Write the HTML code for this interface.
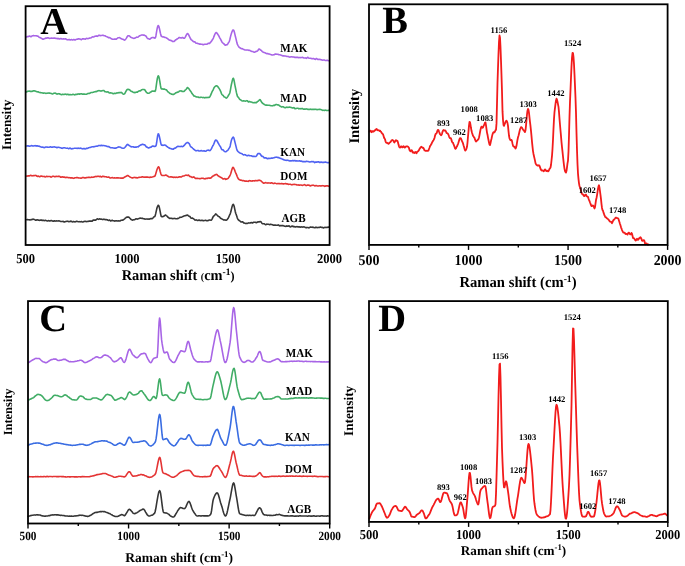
<!DOCTYPE html><html><head><meta charset="utf-8"><style>html,body{margin:0;padding:0;background:#fff;width:685px;height:566px;overflow:hidden}svg{display:block;will-change:transform;text-rendering:geometricPrecision}</style></head><body>
<svg width="685" height="566" viewBox="0 0 685 566" font-family='"Liberation Serif", serif' font-weight="bold" fill="#000">
<rect width="685" height="566" fill="#fff"/>
<path d="M26.40,37.02 L26.90,36.80 L27.40,36.52 L27.90,36.64 L28.40,36.49 L28.90,36.24 L29.40,36.12 L29.90,36.03 L30.40,36.58 L30.90,36.73 L31.40,36.59 L31.90,36.05 L32.40,35.86 L32.90,35.68 L33.40,35.57 L33.90,35.66 L34.40,35.73 L34.90,35.81 L35.40,35.73 L35.90,35.69 L36.40,35.77 L36.90,36.01 L37.40,36.10 L37.90,36.12 L38.40,36.45 L38.90,37.10 L39.40,37.46 L39.90,37.56 L40.40,37.72 L40.90,38.01 L41.40,38.25 L41.90,38.56 L42.40,39.04 L42.90,39.25 L43.40,39.26 L43.90,38.84 L44.40,38.69 L44.90,38.49 L45.40,38.36 L45.90,38.05 L46.40,38.15 L46.90,38.17 L47.40,37.89 L47.90,37.78 L48.40,37.87 L48.90,38.18 L49.40,38.33 L49.90,38.35 L50.40,38.31 L50.90,38.26 L51.40,38.09 L51.90,38.02 L52.40,38.20 L52.90,38.32 L53.40,38.15 L53.90,38.13 L54.40,37.95 L54.90,38.09 L55.40,38.34 L55.90,38.52 L56.40,38.44 L56.90,38.42 L57.40,38.74 L57.90,38.61 L58.40,38.54 L58.90,38.59 L59.40,39.04 L59.90,38.91 L60.40,38.63 L60.90,38.60 L61.40,38.82 L61.90,39.03 L62.40,38.94 L62.90,38.94 L63.40,38.69 L63.90,38.94 L64.40,39.00 L64.90,39.03 L65.40,38.69 L65.90,38.91 L66.40,39.29 L66.90,39.67 L67.40,39.73 L67.90,39.83 L68.40,39.76 L68.90,39.59 L69.40,39.53 L69.90,39.83 L70.40,39.85 L70.90,39.76 L71.40,39.59 L71.90,39.80 L72.40,39.97 L72.90,39.87 L73.40,39.56 L73.90,39.47 L74.40,39.80 L74.90,40.06 L75.40,39.94 L75.90,39.59 L76.40,39.36 L76.90,39.19 L77.40,39.17 L77.90,38.98 L78.40,38.90 L78.90,38.81 L79.40,38.97 L79.90,39.02 L80.40,39.35 L80.90,39.58 L81.40,39.72 L81.90,39.19 L82.40,38.86 L82.90,38.69 L83.40,39.01 L83.90,38.83 L84.40,38.94 L84.90,39.12 L85.40,39.18 L85.90,38.74 L86.40,38.41 L86.90,38.44 L87.40,38.52 L87.90,38.73 L88.40,38.59 L88.90,38.36 L89.40,38.01 L89.90,38.08 L90.40,38.01 L90.90,37.98 L91.40,37.52 L91.90,37.17 L92.40,36.80 L92.90,36.94 L93.40,36.99 L93.90,36.88 L94.40,36.48 L94.90,36.33 L95.40,36.22 L95.90,36.02 L96.40,35.91 L96.90,36.26 L97.40,36.33 L97.90,36.00 L98.40,35.47 L98.90,35.23 L99.40,35.28 L99.90,35.54 L100.40,35.66 L100.90,35.57 L101.40,35.47 L101.90,35.48 L102.40,35.29 L102.90,35.23 L103.40,35.37 L103.90,35.60 L104.40,35.71 L104.90,35.77 L105.40,35.98 L105.90,36.33 L106.40,36.60 L106.90,36.73 L107.40,36.89 L107.90,37.21 L108.40,37.61 L108.90,37.51 L109.40,37.59 L109.90,37.67 L110.40,38.11 L110.90,38.35 L111.40,38.77 L111.90,39.07 L112.40,39.15 L112.90,39.30 L113.40,39.29 L113.90,39.23 L114.40,39.12 L114.90,39.05 L115.40,39.12 L115.90,39.07 L116.40,39.14 L116.90,38.71 L117.40,38.24 L117.90,37.80 L118.40,37.77 L118.90,37.68 L119.40,37.65 L119.90,37.72 L120.40,38.19 L120.90,38.43 L121.40,38.81 L121.90,38.97 L122.40,39.22 L122.90,39.32 L123.40,39.52 L123.90,39.80 L124.40,40.10 L124.90,40.03 L125.40,39.51 L125.90,38.87 L126.40,38.13 L126.90,37.25 L127.40,36.39 L127.90,35.76 L128.40,35.71 L128.90,35.73 L129.40,36.08 L129.90,36.34 L130.40,36.97 L130.90,37.25 L131.40,37.44 L131.90,37.64 L132.40,37.90 L132.90,38.16 L133.40,38.27 L133.90,38.37 L134.40,38.31 L134.90,38.09 L135.40,37.90 L135.90,37.51 L136.40,37.32 L136.90,37.10 L137.40,37.22 L137.90,37.20 L138.40,36.81 L138.90,36.26 L139.40,35.87 L139.90,35.69 L140.40,35.48 L140.90,35.34 L141.40,35.13 L141.90,34.91 L142.40,34.94 L142.90,35.11 L143.40,34.97 L143.90,34.99 L144.40,35.21 L144.90,35.48 L145.40,35.66 L145.90,36.10 L146.40,36.76 L146.90,37.62 L147.40,38.30 L147.90,38.66 L148.40,38.66 L148.90,38.83 L149.40,39.24 L149.90,39.21 L150.40,38.82 L150.90,38.25 L151.40,37.90 L151.90,37.81 L152.40,37.56 L152.90,37.48 L153.40,37.44 L153.90,37.84 L154.40,37.91 L154.90,38.19 L155.40,37.70 L155.90,35.94 L156.40,32.98 L156.90,29.96 L157.40,27.39 L157.90,25.84 L158.40,25.55 L158.90,26.55 L159.40,28.45 L159.90,30.76 L160.40,33.14 L160.90,35.19 L161.40,36.30 L161.90,36.52 L162.40,36.81 L162.90,36.99 L163.40,36.92 L163.90,36.92 L164.40,37.26 L164.90,37.46 L165.40,37.47 L165.90,37.49 L166.40,37.98 L166.90,38.18 L167.40,38.49 L167.90,38.93 L168.40,39.41 L168.90,39.74 L169.40,40.02 L169.90,40.29 L170.40,40.37 L170.90,40.41 L171.40,40.57 L171.90,41.00 L172.40,41.32 L172.90,41.58 L173.40,41.47 L173.90,41.53 L174.40,41.19 L174.90,40.65 L175.40,40.07 L175.90,39.82 L176.40,39.61 L176.90,39.09 L177.40,38.73 L177.90,38.49 L178.40,38.08 L178.90,37.62 L179.40,37.62 L179.90,37.67 L180.40,37.74 L180.90,37.89 L181.40,38.03 L181.90,37.81 L182.40,37.53 L182.90,37.61 L183.40,37.99 L183.90,38.26 L184.40,38.27 L184.90,37.69 L185.40,36.90 L185.90,35.90 L186.40,34.98 L186.90,34.09 L187.40,33.58 L187.90,33.71 L188.40,34.40 L188.90,35.33 L189.40,36.43 L189.90,37.44 L190.40,38.53 L190.90,39.35 L191.40,39.85 L191.90,40.15 L192.40,40.70 L192.90,41.17 L193.40,41.57 L193.90,41.83 L194.40,41.78 L194.90,41.94 L195.40,42.38 L195.90,43.10 L196.40,43.22 L196.90,43.24 L197.40,43.37 L197.90,43.54 L198.40,43.71 L198.90,43.85 L199.40,44.14 L199.90,44.14 L200.40,44.06 L200.90,44.22 L201.40,44.23 L201.90,44.28 L202.40,44.34 L202.90,44.74 L203.40,44.70 L203.90,44.41 L204.40,44.18 L204.90,44.21 L205.40,44.26 L205.90,44.17 L206.40,44.28 L206.90,44.14 L207.40,43.95 L207.90,43.43 L208.40,43.19 L208.90,43.34 L209.40,43.53 L209.90,43.17 L210.40,42.36 L210.90,41.87 L211.40,41.32 L211.90,40.53 L212.40,39.68 L212.90,38.95 L213.40,38.07 L213.90,36.61 L214.40,35.38 L214.90,34.21 L215.40,33.31 L215.90,32.58 L216.40,32.57 L216.90,33.07 L217.40,33.70 L217.90,34.47 L218.40,35.18 L218.90,36.10 L219.40,37.07 L219.90,38.09 L220.40,38.83 L220.90,39.82 L221.40,40.98 L221.90,41.98 L222.40,42.57 L222.90,43.01 L223.40,43.46 L223.90,43.79 L224.40,44.42 L224.90,44.93 L225.40,45.19 L225.90,44.97 L226.40,44.85 L226.90,44.81 L227.40,44.53 L227.90,43.69 L228.40,42.80 L228.90,42.11 L229.40,41.06 L229.90,39.19 L230.40,37.13 L230.90,35.11 L231.40,33.43 L231.90,31.99 L232.40,30.87 L232.90,30.03 L233.40,30.09 L233.90,30.64 L234.40,32.30 L234.90,34.36 L235.40,36.45 L235.90,38.37 L236.40,40.58 L236.90,42.82 L237.40,44.41 L237.90,45.32 L238.40,46.11 L238.90,46.99 L239.40,47.55 L239.90,47.83 L240.40,48.07 L240.90,48.50 L241.40,48.67 L241.90,48.64 L242.40,48.75 L242.90,49.02 L243.40,49.25 L243.90,49.44 L244.40,49.81 L244.90,49.91 L245.40,50.05 L245.90,49.94 L246.40,50.10 L246.90,49.96 L247.40,49.98 L247.90,50.03 L248.40,50.28 L248.90,50.34 L249.40,50.24 L249.90,50.44 L250.40,50.72 L250.90,50.95 L251.40,51.25 L251.90,51.44 L252.40,51.53 L252.90,51.53 L253.40,51.87 L253.90,52.14 L254.40,52.31 L254.90,52.09 L255.40,51.77 L255.90,51.55 L256.40,51.36 L256.90,51.22 L257.40,50.99 L257.90,50.44 L258.40,49.67 L258.90,49.05 L259.40,49.01 L259.90,49.46 L260.40,49.98 L260.90,50.37 L261.40,50.55 L261.90,51.10 L262.40,51.55 L262.90,51.97 L263.40,52.25 L263.90,52.37 L264.40,52.59 L264.90,52.76 L265.40,52.98 L265.90,53.21 L266.40,53.56 L266.90,53.69 L267.40,53.47 L267.90,53.55 L268.40,53.94 L268.90,54.07 L269.40,54.04 L269.90,54.17 L270.40,54.40 L270.90,54.60 L271.40,54.75 L271.90,54.97 L272.40,55.07 L272.90,55.03 L273.40,54.83 L273.90,54.74 L274.40,54.64 L274.90,54.23 L275.40,54.01 L275.90,53.94 L276.40,54.21 L276.90,54.19 L277.40,54.25 L277.90,54.22 L278.40,54.55 L278.90,54.74 L279.40,54.79 L279.90,54.80 L280.40,54.93 L280.90,55.11 L281.40,55.22 L281.90,55.42 L282.40,55.77 L282.90,55.91 L283.40,55.92 L283.90,55.80 L284.40,56.04 L284.90,56.04 L285.40,56.01 L285.90,56.05 L286.40,56.37 L286.90,56.56 L287.40,56.55 L287.90,56.42 L288.40,56.53 L288.90,56.86 L289.40,57.09 L289.90,57.05 L290.40,56.96 L290.90,56.86 L291.40,56.78 L291.90,56.75 L292.40,56.93 L292.90,57.02 L293.40,56.92 L293.90,57.01 L294.40,57.34 L294.90,57.51 L295.40,57.38 L295.90,57.27 L296.40,57.43 L296.90,57.26 L297.40,57.37 L297.90,57.38 L298.40,57.66 L298.90,57.58 L299.40,57.58 L299.90,57.43 L300.40,57.58 L300.90,57.60 L301.40,57.54 L301.90,57.43 L302.40,57.36 L302.90,57.55 L303.40,57.84 L303.90,58.05 L304.40,58.05 L304.90,57.95 L305.40,57.90 L305.90,58.05 L306.40,58.39 L306.90,58.14 L307.40,57.45 L307.90,57.21 L308.40,57.73 L308.90,58.20 L309.40,58.28 L309.90,58.28 L310.40,58.31 L310.90,58.35 L311.40,58.46 L311.90,58.70 L312.40,58.76 L312.90,58.64 L313.40,58.65 L313.90,58.66 L314.40,58.90 L314.90,59.28 L315.40,59.35 L315.90,58.86 L316.40,58.50 L316.90,58.77 L317.40,59.25 L317.90,59.53 L318.40,59.45 L318.90,59.22 L319.40,59.31 L319.90,59.43 L320.40,59.63 L320.90,59.60 L321.40,59.84 L321.90,59.90 L322.40,60.09 L322.90,60.17 L323.40,60.04 L323.90,59.99 L324.40,60.01 L324.90,60.23 L325.40,60.43 L325.90,60.51 L326.40,60.41 L326.90,60.23 L327.40,60.30 L327.90,60.58 L328.40,60.69 L328.90,60.74" fill="none" stroke="#a865e6" stroke-width="1.6" stroke-linejoin="round" stroke-linecap="round"/>
<path d="M26.40,92.02 L26.90,91.81 L27.40,91.35 L27.90,91.18 L28.40,91.24 L28.90,91.11 L29.40,91.04 L29.90,91.21 L30.40,91.43 L30.90,91.25 L31.40,91.32 L31.90,91.49 L32.40,91.28 L32.90,90.93 L33.40,90.85 L33.90,91.00 L34.40,90.81 L34.90,90.92 L35.40,91.09 L35.90,91.44 L36.40,91.48 L36.90,91.75 L37.40,91.83 L37.90,91.80 L38.40,91.84 L38.90,92.20 L39.40,92.41 L39.90,92.56 L40.40,92.61 L40.90,92.66 L41.40,92.77 L41.90,92.83 L42.40,93.03 L42.90,92.96 L43.40,93.14 L43.90,92.98 L44.40,92.93 L44.90,93.05 L45.40,93.33 L45.90,93.42 L46.40,93.26 L46.90,93.29 L47.40,93.17 L47.90,93.03 L48.40,92.98 L48.90,93.10 L49.40,93.14 L49.90,93.17 L50.40,93.29 L50.90,93.36 L51.40,93.58 L51.90,93.81 L52.40,93.97 L52.90,93.80 L53.40,93.59 L53.90,93.27 L54.40,93.22 L54.90,93.10 L55.40,93.16 L55.90,93.38 L56.40,93.90 L56.90,94.15 L57.40,93.96 L57.90,93.78 L58.40,93.65 L58.90,93.84 L59.40,93.86 L59.90,94.05 L60.40,94.34 L60.90,94.56 L61.40,94.71 L61.90,94.51 L62.40,94.32 L62.90,94.22 L63.40,94.53 L63.90,94.57 L64.40,94.39 L64.90,94.09 L65.40,94.13 L65.90,94.33 L66.40,94.58 L66.90,94.54 L67.40,94.28 L67.90,94.33 L68.40,94.58 L68.90,94.84 L69.40,94.82 L69.90,94.56 L70.40,94.64 L70.90,94.72 L71.40,94.78 L71.90,94.66 L72.40,94.44 L72.90,94.33 L73.40,94.31 L73.90,94.62 L74.40,94.80 L74.90,94.91 L75.40,94.59 L75.90,94.26 L76.40,94.24 L76.90,94.45 L77.40,94.28 L77.90,93.93 L78.40,93.90 L78.90,94.12 L79.40,94.26 L79.90,93.92 L80.40,93.98 L80.90,93.75 L81.40,93.71 L81.90,93.85 L82.40,94.30 L82.90,94.32 L83.40,93.99 L83.90,94.17 L84.40,94.14 L84.90,94.25 L85.40,94.19 L85.90,94.22 L86.40,94.21 L86.90,93.99 L87.40,93.79 L87.90,93.53 L88.40,93.48 L88.90,93.40 L89.40,93.36 L89.90,93.23 L90.40,92.92 L90.90,92.60 L91.40,92.45 L91.90,92.49 L92.40,92.43 L92.90,92.36 L93.40,92.15 L93.90,91.93 L94.40,91.84 L94.90,91.69 L95.40,91.61 L95.90,91.64 L96.40,91.60 L96.90,91.40 L97.40,90.97 L97.90,90.89 L98.40,90.67 L98.90,90.69 L99.40,90.66 L99.90,90.77 L100.40,90.97 L100.90,91.08 L101.40,91.05 L101.90,90.84 L102.40,90.74 L102.90,90.58 L103.40,90.43 L103.90,90.56 L104.40,91.08 L104.90,91.60 L105.40,91.67 L105.90,91.83 L106.40,92.00 L106.90,92.08 L107.40,91.88 L107.90,91.92 L108.40,92.11 L108.90,92.66 L109.40,92.99 L109.90,92.95 L110.40,92.74 L110.90,92.88 L111.40,92.94 L111.90,93.07 L112.40,93.35 L112.90,93.69 L113.40,93.78 L113.90,93.58 L114.40,93.25 L114.90,93.26 L115.40,93.57 L115.90,93.46 L116.40,93.08 L116.90,92.88 L117.40,92.98 L117.90,92.88 L118.40,92.70 L118.90,92.58 L119.40,92.60 L119.90,92.73 L120.40,92.63 L120.90,92.39 L121.40,92.48 L121.90,92.83 L122.40,93.41 L122.90,93.86 L123.40,94.23 L123.90,94.18 L124.40,93.84 L124.90,93.33 L125.40,92.45 L125.90,91.48 L126.40,90.53 L126.90,89.84 L127.40,89.39 L127.90,89.20 L128.40,89.37 L128.90,89.49 L129.40,89.84 L129.90,90.08 L130.40,90.69 L130.90,91.11 L131.40,91.45 L131.90,91.42 L132.40,91.71 L132.90,92.10 L133.40,92.38 L133.90,92.45 L134.40,92.42 L134.90,92.66 L135.40,92.58 L135.90,92.27 L136.40,92.14 L136.90,92.23 L137.40,92.14 L137.90,91.68 L138.40,91.30 L138.90,91.11 L139.40,90.84 L139.90,90.90 L140.40,90.86 L140.90,90.55 L141.40,89.94 L141.90,89.64 L142.40,89.48 L142.90,89.46 L143.40,89.49 L143.90,89.59 L144.40,89.59 L144.90,89.98 L145.40,90.77 L145.90,91.64 L146.40,92.22 L146.90,92.69 L147.40,92.97 L147.90,93.30 L148.40,93.26 L148.90,93.30 L149.40,92.96 L149.90,92.58 L150.40,92.15 L150.90,92.03 L151.40,91.64 L151.90,91.21 L152.40,91.01 L152.90,91.18 L153.40,91.15 L153.90,91.10 L154.40,91.08 L154.90,91.34 L155.40,90.82 L155.90,88.43 L156.40,84.71 L156.90,81.08 L157.40,78.26 L157.90,76.36 L158.40,75.81 L158.90,76.83 L159.40,79.01 L159.90,82.00 L160.40,85.20 L160.90,87.88 L161.40,88.90 L161.90,88.94 L162.40,88.89 L162.90,89.15 L163.40,89.14 L163.90,89.11 L164.40,88.98 L164.90,89.25 L165.40,89.49 L165.90,89.70 L166.40,89.86 L166.90,90.29 L167.40,91.16 L167.90,91.75 L168.40,92.12 L168.90,92.37 L169.40,93.04 L169.90,93.39 L170.40,93.59 L170.90,93.79 L171.40,94.11 L171.90,94.18 L172.40,94.35 L172.90,94.39 L173.40,94.51 L173.90,94.15 L174.40,93.98 L174.90,93.51 L175.40,93.12 L175.90,92.78 L176.40,92.63 L176.90,92.53 L177.40,92.14 L177.90,92.15 L178.40,91.95 L178.90,91.60 L179.40,91.12 L179.90,91.03 L180.40,90.92 L180.90,90.78 L181.40,90.97 L181.90,91.34 L182.40,91.42 L182.90,91.29 L183.40,91.44 L183.90,91.44 L184.40,91.04 L184.90,90.43 L185.40,89.88 L185.90,89.59 L186.40,88.97 L186.90,88.27 L187.40,87.55 L187.90,87.70 L188.40,88.21 L188.90,88.84 L189.40,89.47 L189.90,90.24 L190.40,90.90 L190.90,91.57 L191.40,92.41 L191.90,93.37 L192.40,93.89 L192.90,94.59 L193.40,95.20 L193.90,95.99 L194.40,96.07 L194.90,96.32 L195.40,96.41 L195.90,96.66 L196.40,96.86 L196.90,97.08 L197.40,97.06 L197.90,96.99 L198.40,97.14 L198.90,97.46 L199.40,97.51 L199.90,97.41 L200.40,97.37 L200.90,97.31 L201.40,97.18 L201.90,97.38 L202.40,97.58 L202.90,97.66 L203.40,97.39 L203.90,97.55 L204.40,97.82 L204.90,97.88 L205.40,97.68 L205.90,97.39 L206.40,97.54 L206.90,97.66 L207.40,97.58 L207.90,97.40 L208.40,97.37 L208.90,97.43 L209.40,97.26 L209.90,96.70 L210.40,95.69 L210.90,94.59 L211.40,93.43 L211.90,92.08 L212.40,91.07 L212.90,90.27 L213.40,89.31 L213.90,88.01 L214.40,87.22 L214.90,86.69 L215.40,86.26 L215.90,86.00 L216.40,85.78 L216.90,85.86 L217.40,86.15 L217.90,86.84 L218.40,87.56 L218.90,88.02 L219.40,88.93 L219.90,89.78 L220.40,90.96 L220.90,91.93 L221.40,93.38 L221.90,94.49 L222.40,94.92 L222.90,95.17 L223.40,95.84 L223.90,96.66 L224.40,97.05 L224.90,97.04 L225.40,97.51 L225.90,97.98 L226.40,98.09 L226.90,97.60 L227.40,97.08 L227.90,96.39 L228.40,95.52 L228.90,94.67 L229.40,93.89 L229.90,92.47 L230.40,90.04 L230.90,87.14 L231.40,84.51 L231.90,82.42 L232.40,80.15 L232.90,78.57 L233.40,78.24 L233.90,79.69 L234.40,82.23 L234.90,85.09 L235.40,87.52 L235.90,89.89 L236.40,92.42 L236.90,94.59 L237.40,96.21 L237.90,96.91 L238.40,97.43 L238.90,98.06 L239.40,98.91 L239.90,99.48 L240.40,99.86 L240.90,100.02 L241.40,100.41 L241.90,100.84 L242.40,101.00 L242.90,100.96 L243.40,100.89 L243.90,100.88 L244.40,100.97 L244.90,101.08 L245.40,101.16 L245.90,101.03 L246.40,100.86 L246.90,100.67 L247.40,100.83 L247.90,101.33 L248.40,101.84 L248.90,101.87 L249.40,101.53 L249.90,101.56 L250.40,101.92 L250.90,102.02 L251.40,102.06 L251.90,102.20 L252.40,102.56 L252.90,102.60 L253.40,102.73 L253.90,102.71 L254.40,102.60 L254.90,102.48 L255.40,102.44 L255.90,102.66 L256.40,102.63 L256.90,102.20 L257.40,101.64 L257.90,101.34 L258.40,101.05 L258.90,100.55 L259.40,99.90 L259.90,99.61 L260.40,99.99 L260.90,101.00 L261.40,101.77 L261.90,102.56 L262.40,103.18 L262.90,103.60 L263.40,103.81 L263.90,104.18 L264.40,104.54 L264.90,104.79 L265.40,104.97 L265.90,105.15 L266.40,105.16 L266.90,105.10 L267.40,105.26 L267.90,105.29 L268.40,105.24 L268.90,105.23 L269.40,105.31 L269.90,105.44 L270.40,105.57 L270.90,105.74 L271.40,105.69 L271.90,105.71 L272.40,105.84 L272.90,105.65 L273.40,105.29 L273.90,105.31 L274.40,105.53 L274.90,105.25 L275.40,104.66 L275.90,104.48 L276.40,104.53 L276.90,104.62 L277.40,104.68 L277.90,104.93 L278.40,104.91 L278.90,105.13 L279.40,105.64 L279.90,106.03 L280.40,106.30 L280.90,106.54 L281.40,106.95 L281.90,106.97 L282.40,106.82 L282.90,106.67 L283.40,106.84 L283.90,107.22 L284.40,107.54 L284.90,107.62 L285.40,107.64 L285.90,107.48 L286.40,107.20 L286.90,107.12 L287.40,107.32 L287.90,107.52 L288.40,107.33 L288.90,107.18 L289.40,107.07 L289.90,107.27 L290.40,107.32 L290.90,107.48 L291.40,107.59 L291.90,107.81 L292.40,108.05 L292.90,107.99 L293.40,107.68 L293.90,107.65 L294.40,108.15 L294.90,108.67 L295.40,108.66 L295.90,108.57 L296.40,108.49 L296.90,108.35 L297.40,108.22 L297.90,108.35 L298.40,108.53 L298.90,108.83 L299.40,108.73 L299.90,108.65 L300.40,108.63 L300.90,108.84 L301.40,108.72 L301.90,108.44 L302.40,108.44 L302.90,108.81 L303.40,109.14 L303.90,109.27 L304.40,109.06 L304.90,109.10 L305.40,109.12 L305.90,109.07 L306.40,108.90 L306.90,108.95 L307.40,109.25 L307.90,109.36 L308.40,109.37 L308.90,109.52 L309.40,109.51 L309.90,109.22 L310.40,109.10 L310.90,109.36 L311.40,109.49 L311.90,109.41 L312.40,109.35 L312.90,109.42 L313.40,109.40 L313.90,109.52 L314.40,109.38 L314.90,109.27 L315.40,109.22 L315.90,109.36 L316.40,109.55 L316.90,109.60 L317.40,109.58 L317.90,109.53 L318.40,109.52 L318.90,109.40 L319.40,109.22 L319.90,109.24 L320.40,109.41 L320.90,109.60 L321.40,109.86 L321.90,110.04 L322.40,110.26 L322.90,110.39 L323.40,110.31 L323.90,110.27 L324.40,110.37 L324.90,110.35 L325.40,110.16 L325.90,110.21 L326.40,110.37 L326.90,110.45 L327.40,110.44 L327.90,110.50 L328.40,110.39 L328.90,110.34" fill="none" stroke="#41ad66" stroke-width="1.6" stroke-linejoin="round" stroke-linecap="round"/>
<path d="M26.70,145.93 L27.20,145.99 L27.70,145.78 L28.20,145.77 L28.70,145.92 L29.20,146.23 L29.70,146.16 L30.20,146.05 L30.70,145.90 L31.20,145.75 L31.70,145.64 L32.20,145.74 L32.70,145.97 L33.20,145.95 L33.70,146.01 L34.20,145.78 L34.70,145.69 L35.20,145.60 L35.70,145.97 L36.20,146.08 L36.70,145.82 L37.20,145.74 L37.70,146.00 L38.20,146.20 L38.70,146.09 L39.20,146.12 L39.70,146.38 L40.20,146.72 L40.70,146.75 L41.20,147.02 L41.70,147.16 L42.20,147.26 L42.70,147.10 L43.20,147.19 L43.70,147.50 L44.20,147.64 L44.70,147.53 L45.20,147.14 L45.70,146.95 L46.20,146.95 L46.70,147.08 L47.20,147.11 L47.70,147.29 L48.20,147.29 L48.70,147.28 L49.20,147.20 L49.70,147.01 L50.20,146.80 L50.70,146.80 L51.20,147.10 L51.70,147.19 L52.20,147.17 L52.70,147.12 L53.20,147.07 L53.70,146.89 L54.20,146.71 L54.70,146.89 L55.20,147.10 L55.70,147.18 L56.20,147.24 L56.70,147.60 L57.20,147.65 L57.70,147.40 L58.20,147.30 L58.70,147.31 L59.20,147.44 L59.70,147.56 L60.20,147.71 L60.70,147.77 L61.20,147.91 L61.70,148.16 L62.20,148.34 L62.70,148.08 L63.20,147.89 L63.70,147.73 L64.20,147.74 L64.70,147.76 L65.20,147.95 L65.70,148.08 L66.20,148.18 L66.70,148.29 L67.20,148.19 L67.70,148.13 L68.20,148.44 L68.70,148.67 L69.20,148.44 L69.70,148.15 L70.20,148.11 L70.70,148.54 L71.20,148.81 L71.70,148.88 L72.20,148.78 L72.70,148.63 L73.20,148.51 L73.70,148.43 L74.20,148.33 L74.70,148.19 L75.20,148.22 L75.70,148.21 L76.20,148.22 L76.70,148.30 L77.20,148.53 L77.70,148.33 L78.20,148.16 L78.70,148.24 L79.20,148.47 L79.70,148.33 L80.20,148.11 L80.70,148.23 L81.20,148.41 L81.70,148.44 L82.20,148.68 L82.70,148.88 L83.20,148.82 L83.70,148.48 L84.20,148.46 L84.70,148.73 L85.20,148.95 L85.70,148.81 L86.20,148.40 L86.70,148.29 L87.20,148.38 L87.70,148.22 L88.20,148.03 L88.70,147.72 L89.20,147.60 L89.70,147.45 L90.20,147.47 L90.70,147.27 L91.20,147.05 L91.70,146.96 L92.20,146.80 L92.70,146.69 L93.20,146.67 L93.70,146.89 L94.20,146.81 L94.70,146.61 L95.20,146.43 L95.70,146.29 L96.20,146.18 L96.70,146.16 L97.20,146.22 L97.70,146.03 L98.20,145.80 L98.70,145.46 L99.20,145.52 L99.70,145.54 L100.20,145.70 L100.70,145.44 L101.20,145.39 L101.70,145.42 L102.20,145.68 L102.70,145.55 L103.20,145.54 L103.70,145.55 L104.20,145.66 L104.70,145.70 L105.20,145.85 L105.70,146.00 L106.20,146.00 L106.70,146.18 L107.20,146.40 L107.70,146.59 L108.20,146.56 L108.70,146.58 L109.20,146.79 L109.70,147.23 L110.20,147.47 L110.70,147.69 L111.20,147.74 L111.70,147.70 L112.20,147.68 L112.70,147.74 L113.20,147.92 L113.70,148.07 L114.20,148.17 L114.70,148.01 L115.20,148.10 L115.70,148.16 L116.20,148.00 L116.70,147.67 L117.20,147.52 L117.70,147.34 L118.20,147.20 L118.70,146.88 L119.20,146.93 L119.70,146.96 L120.20,147.16 L120.70,147.26 L121.20,147.70 L121.70,147.91 L122.20,148.06 L122.70,148.18 L123.20,148.32 L123.70,148.16 L124.20,147.91 L124.70,147.53 L125.20,147.07 L125.70,146.41 L126.20,145.73 L126.70,145.12 L127.20,144.59 L127.70,144.36 L128.20,144.74 L128.70,145.19 L129.20,145.58 L129.70,145.79 L130.20,146.20 L130.70,146.57 L131.20,146.82 L131.70,146.85 L132.20,146.75 L132.70,146.68 L133.20,146.79 L133.70,147.06 L134.20,147.32 L134.70,147.31 L135.20,147.10 L135.70,147.04 L136.20,147.15 L136.70,146.99 L137.20,146.78 L137.70,146.68 L138.20,146.84 L138.70,146.41 L139.20,145.84 L139.70,145.51 L140.20,145.32 L140.70,145.11 L141.20,144.75 L141.70,144.64 L142.20,144.32 L142.70,144.23 L143.20,144.41 L143.70,144.68 L144.20,144.78 L144.70,144.88 L145.20,145.40 L145.70,146.02 L146.20,146.75 L146.70,146.99 L147.20,147.37 L147.70,147.55 L148.20,147.89 L148.70,147.90 L149.20,147.75 L149.70,147.45 L150.20,147.35 L150.70,147.30 L151.20,147.05 L151.70,146.57 L152.20,146.21 L152.70,145.95 L153.20,146.06 L153.70,146.33 L154.20,146.56 L154.70,146.51 L155.20,146.22 L155.70,146.17 L156.20,145.09 L156.70,142.24 L157.20,138.53 L157.70,135.42 L158.20,133.73 L158.70,134.19 L159.20,135.80 L159.70,137.99 L160.20,140.27 L160.70,142.85 L161.20,144.61 L161.70,145.13 L162.20,145.06 L162.70,145.34 L163.20,145.35 L163.70,145.21 L164.20,145.06 L164.70,145.05 L165.20,145.20 L165.70,145.33 L166.20,145.87 L166.70,146.29 L167.20,146.79 L167.70,147.01 L168.20,147.42 L168.70,147.69 L169.20,148.02 L169.70,148.34 L170.20,148.52 L170.70,148.54 L171.20,148.73 L171.70,148.98 L172.20,149.04 L172.70,149.09 L173.20,149.29 L173.70,148.92 L174.20,148.37 L174.70,148.14 L175.20,148.24 L175.70,147.83 L176.20,147.48 L176.70,147.01 L177.20,146.65 L177.70,146.29 L178.20,146.30 L178.70,146.42 L179.20,146.56 L179.70,146.56 L180.20,146.59 L180.70,146.44 L181.20,146.34 L181.70,146.40 L182.20,146.57 L182.70,146.66 L183.20,146.36 L183.70,145.96 L184.20,145.36 L184.70,144.86 L185.20,144.24 L185.70,143.60 L186.20,143.10 L186.70,142.84 L187.20,142.58 L187.70,142.46 L188.20,142.73 L188.70,143.19 L189.20,143.63 L189.70,144.57 L190.20,145.83 L190.70,146.71 L191.20,147.06 L191.70,147.36 L192.20,147.70 L192.70,148.21 L193.20,148.69 L193.70,149.30 L194.20,149.60 L194.70,149.95 L195.20,150.24 L195.70,150.74 L196.20,150.79 L196.70,150.71 L197.20,150.51 L197.70,150.47 L198.20,150.48 L198.70,150.87 L199.20,150.96 L199.70,150.93 L200.20,150.84 L200.70,150.74 L201.20,150.60 L201.70,150.81 L202.20,151.01 L202.70,151.01 L203.20,150.94 L203.70,150.86 L204.20,150.87 L204.70,151.01 L205.20,151.27 L205.70,151.25 L206.20,150.97 L206.70,150.60 L207.20,150.31 L207.70,150.20 L208.20,150.12 L208.70,150.28 L209.20,150.58 L209.70,150.55 L210.20,150.38 L210.70,149.83 L211.20,149.15 L211.70,148.09 L212.20,147.01 L212.70,145.99 L213.20,145.23 L213.70,144.33 L214.20,142.98 L214.70,141.61 L215.20,140.60 L215.70,140.05 L216.20,140.20 L216.70,140.53 L217.20,141.22 L217.70,142.04 L218.20,143.04 L218.70,143.99 L219.20,144.90 L219.70,145.65 L220.20,146.29 L220.70,147.19 L221.20,148.37 L221.70,149.52 L222.20,149.72 L222.70,149.75 L223.20,150.03 L223.70,150.63 L224.20,151.06 L224.70,151.44 L225.20,151.68 L225.70,151.72 L226.20,151.48 L226.70,151.13 L227.20,150.64 L227.70,150.40 L228.20,149.72 L228.70,148.92 L229.20,148.10 L229.70,147.39 L230.20,145.90 L230.70,143.41 L231.20,141.05 L231.70,139.44 L232.20,138.48 L232.70,137.50 L233.20,137.06 L233.70,137.53 L234.20,139.12 L234.70,141.21 L235.20,143.17 L235.70,145.16 L236.20,147.08 L236.70,149.05 L237.20,150.57 L237.70,151.14 L238.20,151.60 L238.70,152.01 L239.20,152.59 L239.70,152.78 L240.20,153.15 L240.70,153.32 L241.20,153.45 L241.70,153.52 L242.20,153.90 L242.70,154.32 L243.20,154.70 L243.70,154.87 L244.20,154.82 L244.70,154.63 L245.20,154.72 L245.70,155.02 L246.20,155.38 L246.70,155.61 L247.20,155.71 L247.70,155.66 L248.20,155.28 L248.70,155.34 L249.20,155.53 L249.70,155.74 L250.20,155.73 L250.70,155.70 L251.20,155.71 L251.70,155.96 L252.20,156.31 L252.70,156.47 L253.20,156.36 L253.70,156.37 L254.20,156.29 L254.70,156.48 L255.20,156.49 L255.70,156.46 L256.20,156.13 L256.70,155.69 L257.20,154.74 L257.70,153.80 L258.20,153.43 L258.70,153.58 L259.20,153.58 L259.70,153.54 L260.20,154.03 L260.70,154.74 L261.20,155.65 L261.70,156.18 L262.20,156.47 L262.70,156.27 L263.20,156.80 L263.70,157.32 L264.20,158.00 L264.70,157.90 L265.20,157.90 L265.70,157.82 L266.20,158.00 L266.70,158.26 L267.20,158.63 L267.70,158.81 L268.20,158.51 L268.70,158.29 L269.20,158.35 L269.70,158.49 L270.20,158.42 L270.70,158.31 L271.20,158.11 L271.70,157.98 L272.20,158.11 L272.70,158.10 L273.20,157.93 L273.70,157.82 L274.20,157.75 L274.70,157.59 L275.20,157.29 L275.70,157.28 L276.20,157.15 L276.70,157.20 L277.20,157.25 L277.70,157.45 L278.20,157.64 L278.70,157.53 L279.20,157.82 L279.70,158.14 L280.20,158.41 L280.70,158.31 L281.20,158.61 L281.70,158.86 L282.20,159.04 L282.70,159.17 L283.20,159.54 L283.70,159.70 L284.20,159.90 L284.70,160.04 L285.20,160.19 L285.70,160.33 L286.20,160.40 L286.70,160.28 L287.20,160.17 L287.70,160.29 L288.20,160.47 L288.70,160.50 L289.20,160.82 L289.70,160.97 L290.20,160.95 L290.70,160.68 L291.20,160.82 L291.70,160.85 L292.20,160.76 L292.70,160.46 L293.20,160.54 L293.70,160.83 L294.20,160.82 L294.70,160.61 L295.20,160.66 L295.70,161.06 L296.20,161.04 L296.70,160.85 L297.20,160.90 L297.70,161.07 L298.20,161.05 L298.70,160.92 L299.20,160.85 L299.70,160.91 L300.20,161.10 L300.70,161.13 L301.20,161.10 L301.70,161.29 L302.20,161.55 L302.70,161.65 L303.20,161.51 L303.70,161.62 L304.20,161.51 L304.70,161.75 L305.20,161.67 L305.70,161.61 L306.20,161.29 L306.70,161.32 L307.20,161.39 L307.70,161.44 L308.20,161.47 L308.70,161.65 L309.20,161.91 L309.70,161.94 L310.20,161.99 L310.70,161.85 L311.20,161.71 L311.70,161.45 L312.20,161.66 L312.70,161.70 L313.20,161.60 L313.70,161.72 L314.20,162.24 L314.70,162.61 L315.20,162.29 L315.70,162.00 L316.20,162.02 L316.70,162.27 L317.20,162.07 L317.70,161.89 L318.20,161.75 L318.70,161.76 L319.20,162.11 L319.70,162.55 L320.20,162.49 L320.70,161.99 L321.20,161.98 L321.70,162.19 L322.20,162.42 L322.70,162.36 L323.20,162.38 L323.70,162.38 L324.20,162.38 L324.70,162.14 L325.20,161.96 L325.70,162.05 L326.20,162.30 L326.70,162.47 L327.20,162.58 L327.70,162.68 L328.20,162.63 L328.70,162.60" fill="none" stroke="#4f62f2" stroke-width="1.6" stroke-linejoin="round" stroke-linecap="round"/>
<path d="M26.70,176.06 L27.20,176.13 L27.70,175.92 L28.20,175.83 L28.70,175.91 L29.20,175.89 L29.70,175.72 L30.20,175.55 L30.70,175.37 L31.20,175.47 L31.70,175.79 L32.20,175.84 L32.70,175.67 L33.20,175.61 L33.70,175.72 L34.20,175.63 L34.70,175.56 L35.20,175.41 L35.70,175.45 L36.20,175.57 L36.70,176.09 L37.20,176.35 L37.70,176.34 L38.20,176.09 L38.70,176.25 L39.20,176.60 L39.70,176.68 L40.20,176.46 L40.70,176.13 L41.20,176.07 L41.70,176.16 L42.20,176.30 L42.70,176.56 L43.20,176.49 L43.70,176.45 L44.20,176.38 L44.70,176.69 L45.20,176.91 L45.70,176.75 L46.20,176.48 L46.70,176.32 L47.20,176.53 L47.70,176.58 L48.20,176.46 L48.70,176.55 L49.20,176.55 L49.70,176.48 L50.20,176.55 L50.70,176.96 L51.20,177.15 L51.70,176.84 L52.20,176.46 L52.70,176.25 L53.20,176.21 L53.70,176.25 L54.20,176.54 L54.70,176.77 L55.20,176.69 L55.70,176.41 L56.20,176.25 L56.70,176.48 L57.20,176.45 L57.70,176.52 L58.20,176.33 L58.70,176.41 L59.20,176.25 L59.70,176.56 L60.20,176.81 L60.70,177.32 L61.20,177.24 L61.70,177.01 L62.20,176.80 L62.70,177.10 L63.20,177.25 L63.70,176.94 L64.20,177.02 L64.70,177.30 L65.20,177.59 L65.70,177.38 L66.20,177.38 L66.70,177.36 L67.20,177.43 L67.70,177.40 L68.20,177.65 L68.70,177.69 L69.20,177.65 L69.70,177.68 L70.20,177.87 L70.70,177.92 L71.20,177.78 L71.70,177.90 L72.20,177.91 L72.70,177.96 L73.20,178.16 L73.70,178.37 L74.20,178.17 L74.70,177.75 L75.20,177.71 L75.70,177.71 L76.20,177.61 L76.70,177.48 L77.20,177.53 L77.70,177.81 L78.20,177.81 L78.70,178.04 L79.20,177.96 L79.70,178.06 L80.20,177.98 L80.70,178.12 L81.20,178.18 L81.70,178.00 L82.20,177.63 L82.70,177.47 L83.20,177.47 L83.70,177.61 L84.20,177.79 L84.70,178.03 L85.20,177.98 L85.70,177.71 L86.20,177.64 L86.70,177.66 L87.20,177.53 L87.70,177.45 L88.20,177.31 L88.70,177.37 L89.20,177.24 L89.70,177.38 L90.20,177.45 L90.70,177.44 L91.20,177.21 L91.70,177.09 L92.20,177.21 L92.70,177.33 L93.20,177.22 L93.70,176.99 L94.20,177.00 L94.70,176.78 L95.20,176.62 L95.70,176.36 L96.20,176.61 L96.70,176.53 L97.20,176.50 L97.70,176.19 L98.20,176.18 L98.70,176.30 L99.20,176.64 L99.70,176.51 L100.20,176.24 L100.70,176.54 L101.20,176.99 L101.70,176.95 L102.20,176.54 L102.70,176.18 L103.20,176.31 L103.70,176.50 L104.20,176.67 L104.70,176.64 L105.20,176.73 L105.70,176.80 L106.20,176.80 L106.70,177.08 L107.20,177.23 L107.70,177.22 L108.20,177.11 L108.70,177.02 L109.20,177.21 L109.70,177.69 L110.20,177.99 L110.70,177.94 L111.20,177.76 L111.70,177.70 L112.20,177.58 L112.70,177.83 L113.20,177.92 L113.70,178.01 L114.20,177.87 L114.70,177.78 L115.20,177.93 L115.70,178.04 L116.20,178.05 L116.70,177.83 L117.20,177.82 L117.70,177.90 L118.20,177.82 L118.70,177.97 L119.20,178.05 L119.70,177.99 L120.20,178.00 L120.70,178.12 L121.20,178.12 L121.70,177.99 L122.20,178.05 L122.70,178.29 L123.20,178.01 L123.70,177.72 L124.20,177.28 L124.70,177.13 L125.20,176.74 L125.70,176.45 L126.20,176.21 L126.70,175.95 L127.20,175.54 L127.70,175.43 L128.20,175.70 L128.70,176.11 L129.20,176.44 L129.70,176.76 L130.20,177.13 L130.70,177.37 L131.20,177.59 L131.70,177.72 L132.20,177.92 L132.70,177.89 L133.20,177.77 L133.70,177.59 L134.20,177.46 L134.70,177.42 L135.20,177.60 L135.70,177.60 L136.20,177.58 L136.70,177.70 L137.20,178.00 L137.70,177.85 L138.20,177.59 L138.70,177.39 L139.20,177.40 L139.70,177.32 L140.20,177.26 L140.70,177.21 L141.20,177.11 L141.70,176.96 L142.20,176.85 L142.70,176.89 L143.20,177.08 L143.70,177.14 L144.20,177.16 L144.70,177.23 L145.20,177.14 L145.70,176.97 L146.20,176.95 L146.70,177.15 L147.20,177.09 L147.70,177.15 L148.20,177.26 L148.70,177.26 L149.20,177.36 L149.70,177.35 L150.20,177.34 L150.70,177.06 L151.20,177.16 L151.70,177.18 L152.20,177.08 L152.70,176.87 L153.20,176.67 L153.70,176.48 L154.20,176.41 L154.70,176.26 L155.20,175.47 L155.70,173.89 L156.20,172.19 L156.70,170.55 L157.20,169.01 L157.70,167.95 L158.20,167.02 L158.70,166.80 L159.20,167.69 L159.70,169.49 L160.20,171.53 L160.70,173.26 L161.20,174.73 L161.70,175.18 L162.20,175.41 L162.70,175.49 L163.20,175.57 L163.70,175.49 L164.20,175.48 L164.70,175.41 L165.20,175.26 L165.70,175.05 L166.20,175.06 L166.70,175.51 L167.20,175.79 L167.70,176.16 L168.20,176.36 L168.70,176.82 L169.20,176.96 L169.70,177.00 L170.20,176.94 L170.70,176.73 L171.20,176.81 L171.70,177.01 L172.20,177.11 L172.70,177.12 L173.20,177.18 L173.70,177.41 L174.20,177.16 L174.70,177.18 L175.20,177.31 L175.70,177.46 L176.20,177.20 L176.70,177.14 L177.20,177.30 L177.70,177.41 L178.20,177.33 L178.70,177.05 L179.20,176.86 L179.70,176.73 L180.20,176.73 L180.70,176.95 L181.20,176.97 L181.70,176.70 L182.20,176.33 L182.70,176.11 L183.20,176.02 L183.70,175.95 L184.20,175.90 L184.70,175.63 L185.20,175.31 L185.70,175.24 L186.20,175.14 L186.70,175.34 L187.20,175.44 L187.70,175.42 L188.20,175.04 L188.70,175.30 L189.20,175.87 L189.70,176.37 L190.20,176.46 L190.70,176.63 L191.20,176.80 L191.70,177.18 L192.20,177.41 L192.70,177.36 L193.20,177.11 L193.70,176.92 L194.20,177.21 L194.70,177.63 L195.20,178.26 L195.70,178.57 L196.20,178.49 L196.70,178.30 L197.20,178.29 L197.70,178.57 L198.20,178.50 L198.70,178.47 L199.20,178.53 L199.70,178.76 L200.20,178.71 L200.70,178.57 L201.20,178.34 L201.70,178.28 L202.20,178.22 L202.70,178.23 L203.20,178.35 L203.70,178.53 L204.20,178.73 L204.70,178.83 L205.20,178.84 L205.70,178.53 L206.20,178.39 L206.70,178.53 L207.20,178.53 L207.70,178.23 L208.20,177.98 L208.70,178.02 L209.20,178.11 L209.70,178.14 L210.20,178.29 L210.70,178.09 L211.20,177.75 L211.70,177.18 L212.20,176.63 L212.70,176.23 L213.20,175.98 L213.70,175.80 L214.20,175.33 L214.70,175.07 L215.20,174.87 L215.70,174.73 L216.20,174.36 L216.70,174.44 L217.20,174.90 L217.70,175.47 L218.20,175.79 L218.70,176.16 L219.20,176.56 L219.70,176.78 L220.20,176.98 L220.70,177.30 L221.20,177.64 L221.70,177.78 L222.20,178.22 L222.70,178.75 L223.20,179.02 L223.70,178.92 L224.20,178.71 L224.70,178.63 L225.20,178.80 L225.70,179.37 L226.20,179.30 L226.70,178.90 L227.20,178.69 L227.70,178.67 L228.20,178.22 L228.70,177.52 L229.20,176.81 L229.70,176.03 L230.20,175.00 L230.70,173.74 L231.20,171.98 L231.70,170.34 L232.20,168.67 L232.70,167.54 L233.20,167.37 L233.70,168.08 L234.20,169.16 L234.70,170.14 L235.20,171.62 L235.70,172.83 L236.20,173.93 L236.70,175.11 L237.20,176.51 L237.70,177.72 L238.20,178.68 L238.70,179.14 L239.20,179.60 L239.70,179.78 L240.20,180.16 L240.70,180.15 L241.20,180.15 L241.70,180.31 L242.20,180.64 L242.70,180.78 L243.20,180.64 L243.70,180.64 L244.20,180.81 L244.70,181.09 L245.20,181.13 L245.70,181.05 L246.20,181.09 L246.70,181.10 L247.20,181.23 L247.70,181.29 L248.20,181.39 L248.70,181.00 L249.20,180.72 L249.70,180.63 L250.20,180.85 L250.70,180.89 L251.20,180.99 L251.70,181.09 L252.20,181.12 L252.70,180.75 L253.20,180.76 L253.70,180.83 L254.20,181.00 L254.70,180.72 L255.20,180.63 L255.70,180.60 L256.20,180.67 L256.70,180.71 L257.20,180.58 L257.70,180.70 L258.20,180.41 L258.70,180.18 L259.20,180.10 L259.70,180.40 L260.20,180.57 L260.70,180.57 L261.20,181.12 L261.70,181.52 L262.20,182.10 L262.70,182.42 L263.20,182.96 L263.70,183.16 L264.20,183.13 L264.70,182.88 L265.20,182.70 L265.70,182.63 L266.20,182.80 L266.70,182.91 L267.20,183.11 L267.70,182.92 L268.20,182.94 L268.70,182.91 L269.20,183.02 L269.70,182.93 L270.20,183.10 L270.70,183.13 L271.20,182.90 L271.70,182.80 L272.20,182.99 L272.70,183.17 L273.20,183.40 L273.70,183.59 L274.20,183.46 L274.70,183.06 L275.20,183.17 L275.70,183.37 L276.20,183.60 L276.70,183.77 L277.20,183.72 L277.70,183.53 L278.20,183.55 L278.70,183.65 L279.20,183.57 L279.70,183.63 L280.20,183.82 L280.70,183.72 L281.20,183.50 L281.70,183.47 L282.20,183.66 L282.70,183.68 L283.20,183.89 L283.70,183.91 L284.20,183.80 L284.70,183.69 L285.20,183.62 L285.70,183.55 L286.20,183.68 L286.70,183.89 L287.20,183.87 L287.70,183.97 L288.20,184.29 L288.70,184.41 L289.20,184.32 L289.70,184.22 L290.20,184.25 L290.70,184.27 L291.20,184.66 L291.70,184.83 L292.20,184.76 L292.70,184.45 L293.20,184.44 L293.70,184.35 L294.20,184.23 L294.70,184.46 L295.20,184.58 L295.70,184.52 L296.20,184.53 L296.70,184.97 L297.20,184.97 L297.70,184.95 L298.20,184.85 L298.70,185.13 L299.20,185.12 L299.70,185.11 L300.20,185.00 L300.70,185.07 L301.20,185.04 L301.70,185.18 L302.20,185.21 L302.70,185.37 L303.20,185.14 L303.70,184.92 L304.20,184.62 L304.70,184.72 L305.20,185.09 L305.70,185.49 L306.20,185.58 L306.70,185.42 L307.20,185.07 L307.70,185.05 L308.20,185.19 L308.70,185.11 L309.20,185.19 L309.70,185.46 L310.20,186.01 L310.70,185.82 L311.20,185.58 L311.70,185.37 L312.20,185.35 L312.70,185.21 L313.20,185.13 L313.70,185.37 L314.20,185.60 L314.70,185.90 L315.20,185.85 L315.70,185.59 L316.20,185.46 L316.70,185.65 L317.20,185.91 L317.70,186.05 L318.20,185.98 L318.70,185.94 L319.20,185.75 L319.70,185.78 L320.20,185.84 L320.70,185.99 L321.20,185.98 L321.70,185.77 L322.20,185.66 L322.70,185.70 L323.20,185.77 L323.70,185.72 L324.20,186.02 L324.70,186.35 L325.20,186.29 L325.70,185.84 L326.20,185.99 L326.70,185.86 L327.20,185.79 L327.70,185.81 L328.20,186.13 L328.70,186.15" fill="none" stroke="#e43434" stroke-width="1.6" stroke-linejoin="round" stroke-linecap="round"/>
<path d="M26.70,219.73 L27.20,219.65 L27.70,219.63 L28.20,219.76 L28.70,219.78 L29.20,219.78 L29.70,219.91 L30.20,219.90 L30.70,219.77 L31.20,219.59 L31.70,219.60 L32.20,219.48 L32.70,219.24 L33.20,219.10 L33.70,219.34 L34.20,219.55 L34.70,219.63 L35.20,219.95 L35.70,220.30 L36.20,220.27 L36.70,219.82 L37.20,219.86 L37.70,219.90 L38.20,220.08 L38.70,220.11 L39.20,220.40 L39.70,220.24 L40.20,220.25 L40.70,219.98 L41.20,220.00 L41.70,220.14 L42.20,220.54 L42.70,220.38 L43.20,220.28 L43.70,220.39 L44.20,220.63 L44.70,220.48 L45.20,220.39 L45.70,220.37 L46.20,220.59 L46.70,220.76 L47.20,220.96 L47.70,220.97 L48.20,220.77 L48.70,220.60 L49.20,220.85 L49.70,220.97 L50.20,220.87 L50.70,220.59 L51.20,220.59 L51.70,220.60 L52.20,220.86 L52.70,221.11 L53.20,221.15 L53.70,221.16 L54.20,220.91 L54.70,220.87 L55.20,220.93 L55.70,221.11 L56.20,221.01 L56.70,220.89 L57.20,221.04 L57.70,221.06 L58.20,220.93 L58.70,220.79 L59.20,220.90 L59.70,221.07 L60.20,221.30 L60.70,221.44 L61.20,221.43 L61.70,221.55 L62.20,221.51 L62.70,221.42 L63.20,221.38 L63.70,221.79 L64.20,222.05 L64.70,221.88 L65.20,221.68 L65.70,221.47 L66.20,221.48 L66.70,221.33 L67.20,221.17 L67.70,221.26 L68.20,221.53 L68.70,221.61 L69.20,221.61 L69.70,221.55 L70.20,221.52 L70.70,221.11 L71.20,221.26 L71.70,221.64 L72.20,221.91 L72.70,221.70 L73.20,221.47 L73.70,221.54 L74.20,221.66 L74.70,221.86 L75.20,221.85 L75.70,221.67 L76.20,221.35 L76.70,221.37 L77.20,221.41 L77.70,221.54 L78.20,221.67 L78.70,221.74 L79.20,221.69 L79.70,221.65 L80.20,221.83 L80.70,221.68 L81.20,221.61 L81.70,221.60 L82.20,221.90 L82.70,222.03 L83.20,221.97 L83.70,221.56 L84.20,221.42 L84.70,221.32 L85.20,221.40 L85.70,221.40 L86.20,221.57 L86.70,221.64 L87.20,221.57 L87.70,221.37 L88.20,221.40 L88.70,221.26 L89.20,221.12 L89.70,221.09 L90.20,221.16 L90.70,221.10 L91.20,220.99 L91.70,221.14 L92.20,221.09 L92.70,220.62 L93.20,220.13 L93.70,219.96 L94.20,220.13 L94.70,220.06 L95.20,220.11 L95.70,220.08 L96.20,219.74 L96.70,219.25 L97.20,218.80 L97.70,219.03 L98.20,219.20 L98.70,219.34 L99.20,218.94 L99.70,218.85 L100.20,218.99 L100.70,219.19 L101.20,219.20 L101.70,219.12 L102.20,219.44 L102.70,219.58 L103.20,219.44 L103.70,219.16 L104.20,219.28 L104.70,219.52 L105.20,219.63 L105.70,219.59 L106.20,219.61 L106.70,219.79 L107.20,219.84 L107.70,220.09 L108.20,220.44 L108.70,220.45 L109.20,220.10 L109.70,220.16 L110.20,220.69 L110.70,221.05 L111.20,220.80 L111.70,220.43 L112.20,220.26 L112.70,220.64 L113.20,220.74 L113.70,220.83 L114.20,220.91 L114.70,221.14 L115.20,220.94 L115.70,220.81 L116.20,220.78 L116.70,220.85 L117.20,220.93 L117.70,220.92 L118.20,221.03 L118.70,220.82 L119.20,220.92 L119.70,220.97 L120.20,220.87 L120.70,220.52 L121.20,220.32 L121.70,220.22 L122.20,220.12 L122.70,220.13 L123.20,219.96 L123.70,219.51 L124.20,219.19 L124.70,218.85 L125.20,218.24 L125.70,217.85 L126.20,217.44 L126.70,217.16 L127.20,216.97 L127.70,217.20 L128.20,217.07 L128.70,217.06 L129.20,217.38 L129.70,218.01 L130.20,218.57 L130.70,219.11 L131.20,219.52 L131.70,219.74 L132.20,219.95 L132.70,220.12 L133.20,219.84 L133.70,219.81 L134.20,219.68 L134.70,219.80 L135.20,219.29 L135.70,219.08 L136.20,218.76 L136.70,218.93 L137.20,219.07 L137.70,219.09 L138.20,218.78 L138.70,218.61 L139.20,218.42 L139.70,218.23 L140.20,218.04 L140.70,218.21 L141.20,218.34 L141.70,218.25 L142.20,218.18 L142.70,218.36 L143.20,218.76 L143.70,218.77 L144.20,218.77 L144.70,218.99 L145.20,219.18 L145.70,219.08 L146.20,218.97 L146.70,219.05 L147.20,219.12 L147.70,219.05 L148.20,219.02 L148.70,219.10 L149.20,219.14 L149.70,218.99 L150.20,218.72 L150.70,218.64 L151.20,218.64 L151.70,218.61 L152.20,218.65 L152.70,218.25 L153.20,217.71 L153.70,217.01 L154.20,216.80 L154.70,216.55 L155.20,215.58 L155.70,213.64 L156.20,211.34 L156.70,209.05 L157.20,207.20 L157.70,206.07 L158.20,205.31 L158.70,205.51 L159.20,206.90 L159.70,209.18 L160.20,211.69 L160.70,214.35 L161.20,216.32 L161.70,216.70 L162.20,216.73 L162.70,216.61 L163.20,216.49 L163.70,216.24 L164.20,216.00 L164.70,215.50 L165.20,215.08 L165.70,215.12 L166.20,215.59 L166.70,215.93 L167.20,216.23 L167.70,216.90 L168.20,217.45 L168.70,217.86 L169.20,218.08 L169.70,218.50 L170.20,218.35 L170.70,218.32 L171.20,218.18 L171.70,218.50 L172.20,218.50 L172.70,218.66 L173.20,218.48 L173.70,218.58 L174.20,218.39 L174.70,218.46 L175.20,218.58 L175.70,218.74 L176.20,218.80 L176.70,218.75 L177.20,218.67 L177.70,218.42 L178.20,218.44 L178.70,218.16 L179.20,217.80 L179.70,217.39 L180.20,217.38 L180.70,217.32 L181.20,217.28 L181.70,217.12 L182.20,216.87 L182.70,216.57 L183.20,216.44 L183.70,216.07 L184.20,215.96 L184.70,215.82 L185.20,215.81 L185.70,215.53 L186.20,215.46 L186.70,215.20 L187.20,215.02 L187.70,215.23 L188.20,215.64 L188.70,216.03 L189.20,216.17 L189.70,216.41 L190.20,216.91 L190.70,217.71 L191.20,218.19 L191.70,218.20 L192.20,217.96 L192.70,218.29 L193.20,218.56 L193.70,218.92 L194.20,219.13 L194.70,219.91 L195.20,220.15 L195.70,220.07 L196.20,219.87 L196.70,220.07 L197.20,220.38 L197.70,220.55 L198.20,220.47 L198.70,220.06 L199.20,220.02 L199.70,220.17 L200.20,220.59 L200.70,220.48 L201.20,220.48 L201.70,220.28 L202.20,220.29 L202.70,220.46 L203.20,220.67 L203.70,220.69 L204.20,220.55 L204.70,220.46 L205.20,220.36 L205.70,220.19 L206.20,220.50 L206.70,220.68 L207.20,220.75 L207.70,220.63 L208.20,220.56 L208.70,220.38 L209.20,220.01 L209.70,219.99 L210.20,220.09 L210.70,220.19 L211.20,220.21 L211.70,219.69 L212.20,218.89 L212.70,217.68 L213.20,216.71 L213.70,215.91 L214.20,215.73 L214.70,215.23 L215.20,214.55 L215.70,213.92 L216.20,214.23 L216.70,214.72 L217.20,215.22 L217.70,215.73 L218.20,216.35 L218.70,216.57 L219.20,216.72 L219.70,217.09 L220.20,217.92 L220.70,218.26 L221.20,218.62 L221.70,218.70 L222.20,219.10 L222.70,219.36 L223.20,219.69 L223.70,219.89 L224.20,219.91 L224.70,219.98 L225.20,220.06 L225.70,220.13 L226.20,220.14 L226.70,219.96 L227.20,219.57 L227.70,218.83 L228.20,218.20 L228.70,217.18 L229.20,215.95 L229.70,214.79 L230.20,213.78 L230.70,212.21 L231.20,210.20 L231.70,208.17 L232.20,206.16 L232.70,204.77 L233.20,204.35 L233.70,205.02 L234.20,206.52 L234.70,208.81 L235.20,211.19 L235.70,213.26 L236.20,214.59 L236.70,216.12 L237.20,217.62 L237.70,218.83 L238.20,219.65 L238.70,220.19 L239.20,220.57 L239.70,220.80 L240.20,221.24 L240.70,221.70 L241.20,222.00 L241.70,222.07 L242.20,221.79 L242.70,221.87 L243.20,222.35 L243.70,222.94 L244.20,223.03 L244.70,223.10 L245.20,223.41 L245.70,223.48 L246.20,223.51 L246.70,223.38 L247.20,223.44 L247.70,223.26 L248.20,223.10 L248.70,222.88 L249.20,222.94 L249.70,223.00 L250.20,222.93 L250.70,222.67 L251.20,222.52 L251.70,222.78 L252.20,222.88 L252.70,222.88 L253.20,222.45 L253.70,222.19 L254.20,222.22 L254.70,222.32 L255.20,222.33 L255.70,222.35 L256.20,222.61 L256.70,222.60 L257.20,222.30 L257.70,222.00 L258.20,221.82 L258.70,221.95 L259.20,221.85 L259.70,221.77 L260.20,221.50 L260.70,221.71 L261.20,222.16 L261.70,222.91 L262.20,223.49 L262.70,223.71 L263.20,223.75 L263.70,223.72 L264.20,223.80 L264.70,224.10 L265.20,224.48 L265.70,224.65 L266.20,224.46 L266.70,224.16 L267.20,224.17 L267.70,224.30 L268.20,224.20 L268.70,224.31 L269.20,224.50 L269.70,224.66 L270.20,224.40 L270.70,224.30 L271.20,224.48 L271.70,224.58 L272.20,224.66 L272.70,224.71 L273.20,225.13 L273.70,225.29 L274.20,225.20 L274.70,224.94 L275.20,225.01 L275.70,225.25 L276.20,225.31 L276.70,225.27 L277.20,225.22 L277.70,225.10 L278.20,224.89 L278.70,225.09 L279.20,225.61 L279.70,225.90 L280.20,225.79 L280.70,225.54 L281.20,225.55 L281.70,225.72 L282.20,225.65 L282.70,225.64 L283.20,225.65 L283.70,225.92 L284.20,226.01 L284.70,226.22 L285.20,226.32 L285.70,226.39 L286.20,226.20 L286.70,225.90 L287.20,225.98 L287.70,226.29 L288.20,226.24 L288.70,225.81 L289.20,225.88 L289.70,226.51 L290.20,226.95 L290.70,226.79 L291.20,226.53 L291.70,226.14 L292.20,225.96 L292.70,226.15 L293.20,226.72 L293.70,226.60 L294.20,226.53 L294.70,226.66 L295.20,227.04 L295.70,226.91 L296.20,226.83 L296.70,226.61 L297.20,226.66 L297.70,226.85 L298.20,226.92 L298.70,226.87 L299.20,226.77 L299.70,227.00 L300.20,227.16 L300.70,226.95 L301.20,226.76 L301.70,226.90 L302.20,227.16 L302.70,227.03 L303.20,226.92 L303.70,226.86 L304.20,226.85 L304.70,227.12 L305.20,227.41 L305.70,227.59 L306.20,227.58 L306.70,227.66 L307.20,227.51 L307.70,227.46 L308.20,227.60 L308.70,227.84 L309.20,227.77 L309.70,227.40 L310.20,227.08 L310.70,227.07 L311.20,227.28 L311.70,227.19 L312.20,227.10 L312.70,227.19 L313.20,227.48 L313.70,227.39 L314.20,227.62 L314.70,227.82 L315.20,227.67 L315.70,227.21 L316.20,227.24 L316.70,227.55 L317.20,227.65 L317.70,227.55 L318.20,227.46 L318.70,227.39 L319.20,227.26 L319.70,227.35 L320.20,227.13 L320.70,227.04 L321.20,227.21 L321.70,227.55 L322.20,227.41 L322.70,227.49 L323.20,227.85 L323.70,227.95 L324.20,227.59 L324.70,227.42 L325.20,227.41 L325.70,227.46 L326.20,227.40 L326.70,227.49 L327.20,227.51 L327.70,227.33 L328.20,227.05 L328.70,227.15" fill="none" stroke="#363636" stroke-width="1.6" stroke-linejoin="round" stroke-linecap="round"/>
<path d="M369.50,131.68 L370.00,130.50 L370.50,130.76 L371.00,131.69 L371.50,132.19 L372.00,131.19 L372.50,131.06 L373.00,131.73 L373.50,131.65 L374.00,131.21 L374.50,130.43 L375.00,130.51 L375.50,129.93 L376.00,129.19 L376.50,128.92 L377.00,129.46 L377.50,130.31 L378.00,130.04 L378.50,130.34 L379.00,130.31 L379.50,130.95 L380.00,130.58 L380.50,131.35 L381.00,131.73 L381.50,132.60 L382.00,133.29 L382.50,133.76 L383.00,134.15 L383.50,135.83 L384.00,137.53 L384.50,138.47 L385.00,139.08 L385.50,141.32 L386.00,142.44 L386.50,142.95 L387.00,142.76 L387.50,143.02 L388.00,143.43 L388.50,143.89 L389.00,143.53 L389.50,142.81 L390.00,142.40 L390.50,142.01 L391.00,141.26 L391.50,140.36 L392.00,140.19 L392.50,139.96 L393.00,140.35 L393.50,141.05 L394.00,142.10 L394.50,142.46 L395.00,141.36 L395.50,140.66 L396.00,140.12 L396.50,140.74 L397.00,140.68 L397.50,141.06 L398.00,142.55 L398.50,144.62 L399.00,146.37 L399.50,147.23 L400.00,147.63 L400.50,146.92 L401.00,146.32 L401.50,146.43 L402.00,147.33 L402.50,147.32 L403.00,146.70 L403.50,146.10 L404.00,146.89 L404.50,147.59 L405.00,147.57 L405.50,146.64 L406.00,146.61 L406.50,146.33 L407.00,146.37 L407.50,146.28 L408.00,146.78 L408.50,147.15 L409.00,148.03 L409.50,149.96 L410.00,150.88 L410.50,151.26 L411.00,150.50 L411.50,150.14 L412.00,150.52 L412.50,152.18 L413.00,152.80 L413.50,152.24 L414.00,152.28 L414.50,153.03 L415.00,152.21 L415.50,151.98 L416.00,152.37 L416.50,153.30 L417.00,152.22 L417.50,151.71 L418.00,151.35 L418.50,150.89 L419.00,150.01 L419.50,148.98 L420.00,148.38 L420.50,147.38 L421.00,147.00 L421.50,146.72 L422.00,147.36 L422.50,147.76 L423.00,147.70 L423.50,148.06 L424.00,149.14 L424.50,150.36 L425.00,150.42 L425.50,150.85 L426.00,150.97 L426.50,150.84 L427.00,150.65 L427.50,150.78 L428.00,150.80 L428.50,150.43 L429.00,148.99 L429.50,147.75 L430.00,146.31 L430.50,145.57 L431.00,144.55 L431.50,143.86 L432.00,142.66 L432.50,141.75 L433.00,140.83 L433.50,140.18 L434.00,139.27 L434.50,137.97 L435.00,135.81 L435.50,134.15 L436.00,133.69 L436.50,133.41 L437.00,132.18 L437.50,130.60 L438.00,129.86 L438.50,130.17 L439.00,131.54 L439.50,132.82 L440.00,134.15 L440.50,134.56 L441.00,135.26 L441.50,134.76 L442.00,133.80 L442.50,131.82 L443.00,130.61 L443.50,130.01 L444.00,130.26 L444.50,130.69 L445.00,130.48 L445.50,130.64 L446.00,131.58 L446.50,132.80 L447.00,133.22 L447.50,133.31 L448.00,133.89 L448.50,134.81 L449.00,136.27 L449.50,137.56 L450.00,138.20 L450.50,138.20 L451.00,138.41 L451.50,140.16 L452.00,141.64 L452.50,142.69 L453.00,142.71 L453.50,144.14 L454.00,145.37 L454.50,146.76 L455.00,148.24 L455.50,148.74 L456.00,148.35 L456.50,147.04 L457.00,146.38 L457.50,145.08 L458.00,144.04 L458.50,142.40 L459.00,140.68 L459.50,138.94 L460.00,138.24 L460.50,138.13 L461.00,138.54 L461.50,139.98 L462.00,141.08 L462.50,142.13 L463.00,143.27 L463.50,145.31 L464.00,146.80 L464.50,148.69 L465.00,150.34 L465.50,150.57 L466.00,149.68 L466.50,148.58 L467.00,146.79 L467.50,142.54 L468.00,136.68 L468.50,131.27 L469.00,125.52 L469.50,122.00 L470.00,122.07 L470.50,124.83 L471.00,128.02 L471.50,130.80 L472.00,132.72 L472.50,134.29 L473.00,135.75 L473.50,136.42 L474.00,137.38 L474.50,137.67 L475.00,139.44 L475.50,140.72 L476.00,141.54 L476.50,141.03 L477.00,140.52 L477.50,140.24 L478.00,139.56 L478.50,139.02 L479.00,137.53 L479.50,135.09 L480.00,132.24 L480.50,129.62 L481.00,127.72 L481.50,126.65 L482.00,127.00 L482.50,127.79 L483.00,127.46 L483.50,126.06 L484.00,125.15 L484.50,123.92 L485.00,122.53 L485.50,122.43 L486.00,125.44 L486.50,129.15 L487.00,132.59 L487.50,134.71 L488.00,137.62 L488.50,139.99 L489.00,142.62 L489.50,144.63 L490.00,145.09 L490.50,143.19 L491.00,140.72 L491.50,138.69 L492.00,136.42 L492.50,134.36 L493.00,132.99 L493.50,132.11 L494.00,132.54 L494.50,132.21 L495.00,131.47 L495.50,130.11 L496.00,129.91 L496.50,123.39 L497.00,103.63 L497.50,82.65 L498.00,67.81 L498.50,53.81 L499.00,41.76 L499.50,35.47 L500.00,37.59 L500.50,47.25 L501.00,60.76 L501.50,75.52 L502.00,91.59 L502.50,111.15 L503.00,120.01 L503.50,124.98 L504.00,125.88 L504.50,124.51 L505.00,123.30 L505.50,122.01 L506.00,121.07 L506.50,120.66 L507.00,121.39 L507.50,123.04 L508.00,125.79 L508.50,131.05 L509.00,135.73 L509.50,138.36 L510.00,139.42 L510.50,140.28 L511.00,140.09 L511.50,139.85 L512.00,141.15 L512.50,143.64 L513.00,145.64 L513.50,146.57 L514.00,146.53 L514.50,146.82 L515.00,147.67 L515.50,148.57 L516.00,147.73 L516.50,145.78 L517.00,142.71 L517.50,139.72 L518.00,137.28 L518.50,135.79 L519.00,133.76 L519.50,131.53 L520.00,129.39 L520.50,128.25 L521.00,127.12 L521.50,127.39 L522.00,127.69 L522.50,128.68 L523.00,129.55 L523.50,130.13 L524.00,130.71 L524.50,131.45 L525.00,132.12 L525.50,130.35 L526.00,125.87 L526.50,120.02 L527.00,114.47 L527.50,110.74 L528.00,108.87 L528.50,109.90 L529.00,113.00 L529.50,117.55 L530.00,122.04 L530.50,126.03 L531.00,130.85 L531.50,136.12 L532.00,141.89 L532.50,146.68 L533.00,151.04 L533.50,153.96 L534.00,156.23 L534.50,158.41 L535.00,160.58 L535.50,163.08 L536.00,164.25 L536.50,164.85 L537.00,165.13 L537.50,165.69 L538.00,165.48 L538.50,165.50 L539.00,165.27 L539.50,165.86 L540.00,167.17 L540.50,168.74 L541.00,169.78 L541.50,170.50 L542.00,170.47 L542.50,170.46 L543.00,170.34 L543.50,171.31 L544.00,171.00 L544.50,170.49 L545.00,169.42 L545.50,169.90 L546.00,170.71 L546.50,171.05 L547.00,170.65 L547.50,170.78 L548.00,171.29 L548.50,171.10 L549.00,170.06 L549.50,168.98 L550.00,168.44 L550.50,167.52 L551.00,165.01 L551.50,160.52 L552.00,155.84 L552.50,148.98 L553.00,139.78 L553.50,128.65 L554.00,119.06 L554.50,111.99 L555.00,107.87 L555.50,103.98 L556.00,100.42 L556.50,98.68 L557.00,99.65 L557.50,101.69 L558.00,104.35 L558.50,106.92 L559.00,112.19 L559.50,118.77 L560.00,124.76 L560.50,130.53 L561.00,136.12 L561.50,142.16 L562.00,147.04 L562.50,151.63 L563.00,156.50 L563.50,161.09 L564.00,165.32 L564.50,168.83 L565.00,171.14 L565.50,172.02 L566.00,172.52 L566.50,170.83 L567.00,167.42 L567.50,163.41 L568.00,160.56 L568.50,151.43 L569.00,135.34 L569.50,116.84 L570.00,101.82 L570.50,90.00 L571.00,77.76 L571.50,66.39 L572.00,57.52 L572.50,52.98 L573.00,53.14 L573.50,57.04 L574.00,64.26 L574.50,74.55 L575.00,85.99 L575.50,98.02 L576.00,112.88 L576.50,132.76 L577.00,149.98 L577.50,163.97 L578.00,173.77 L578.50,179.05 L579.00,183.31 L579.50,185.99 L580.00,187.45 L580.50,188.88 L581.00,190.87 L581.50,192.90 L582.00,193.89 L582.50,194.28 L583.00,194.39 L583.50,195.20 L584.00,196.02 L584.50,196.09 L585.00,195.11 L585.50,194.58 L586.00,194.69 L586.50,195.98 L587.00,196.34 L587.50,196.77 L588.00,196.95 L588.50,198.50 L589.00,199.85 L589.50,201.07 L590.00,202.50 L590.50,203.67 L591.00,205.19 L591.50,206.12 L592.00,205.87 L592.50,205.55 L593.00,205.44 L593.50,206.30 L594.00,207.20 L594.50,208.52 L595.00,207.18 L595.50,203.54 L596.00,200.08 L596.50,197.96 L597.00,195.35 L597.50,192.10 L598.00,188.61 L598.50,186.34 L599.00,185.20 L599.50,187.68 L600.00,191.30 L600.50,195.18 L601.00,199.07 L601.50,204.09 L602.00,207.98 L602.50,209.97 L603.00,210.78 L603.50,212.62 L604.00,213.87 L604.50,215.44 L605.00,216.46 L605.50,217.32 L606.00,217.34 L606.50,217.71 L607.00,218.39 L607.50,218.79 L608.00,219.04 L608.50,219.57 L609.00,220.24 L609.50,221.09 L610.00,221.53 L610.50,221.67 L611.00,221.62 L611.50,222.42 L612.00,223.21 L612.50,222.20 L613.00,220.91 L613.50,219.98 L614.00,219.89 L614.50,219.05 L615.00,218.48 L615.50,217.87 L616.00,217.59 L616.50,217.86 L617.00,218.03 L617.50,218.07 L618.00,218.25 L618.50,219.01 L619.00,220.66 L619.50,222.24 L620.00,223.96 L620.50,225.38 L621.00,227.28 L621.50,228.58 L622.00,230.06 L622.50,231.05 L623.00,231.99 L623.50,232.69 L624.00,232.69 L624.50,232.64 L625.00,233.26 L625.50,234.06 L626.00,233.75 L626.50,233.91 L627.00,234.23 L627.50,234.61 L628.00,233.27 L628.50,232.90 L629.00,232.62 L629.50,233.59 L630.00,234.13 L630.50,234.42 L631.00,234.13 L631.50,232.93 L632.00,233.73 L632.50,235.80 L633.00,238.01 L633.50,238.19 L634.00,238.17 L634.50,238.95 L635.00,239.76 L635.50,240.60 L636.00,240.40 L636.50,239.47 L637.00,238.82 L637.50,239.61 L638.00,239.87 L638.50,239.31 L639.00,238.50 L639.50,238.00 L640.00,237.60 L640.50,237.27 L641.00,237.96 L641.50,239.11 L642.00,240.70 L642.50,240.86 L643.00,240.71 L643.50,240.19 L644.00,240.22 L644.50,241.18 L645.00,243.46 L645.50,244.21 L646.00,243.65 L646.50,243.40 L647.00,244.03 L647.50,244.50 L648.00,244.50 L648.50,244.50" fill="none" stroke="#f21c1c" stroke-width="1.8" stroke-linejoin="round" stroke-linecap="round"/>
<path d="M28.60,362.62 L29.10,362.27 L29.60,361.85 L30.10,361.49 L30.60,361.21 L31.10,360.92 L31.60,360.54 L32.10,360.28 L32.60,359.99 L33.10,359.70 L33.60,359.42 L34.10,359.17 L34.60,358.93 L35.10,358.61 L35.60,358.43 L36.10,358.33 L36.60,358.45 L37.10,358.47 L37.60,358.51 L38.10,358.50 L38.60,358.52 L39.10,358.54 L39.60,358.78 L40.10,359.26 L40.60,359.74 L41.10,360.23 L41.60,360.68 L42.10,361.12 L42.60,361.44 L43.10,361.74 L43.60,361.90 L44.10,362.04 L44.60,362.21 L45.10,362.50 L45.60,362.67 L46.10,362.65 L46.60,362.49 L47.10,362.21 L47.60,361.97 L48.10,361.58 L48.60,361.24 L49.10,360.89 L49.60,360.66 L50.10,360.24 L50.60,359.92 L51.10,359.73 L51.60,359.64 L52.10,359.57 L52.60,359.50 L53.10,359.32 L53.60,359.07 L54.10,359.03 L54.60,359.11 L55.10,359.12 L55.60,359.10 L56.10,359.26 L56.60,359.56 L57.10,359.94 L57.60,360.20 L58.10,360.42 L58.60,360.56 L59.10,360.52 L59.60,360.36 L60.10,360.31 L60.60,360.28 L61.10,360.14 L61.60,359.97 L62.10,359.83 L62.60,359.64 L63.10,359.40 L63.60,359.36 L64.10,359.34 L64.60,359.38 L65.10,359.33 L65.60,359.55 L66.10,359.91 L66.60,360.29 L67.10,360.60 L67.60,360.81 L68.10,361.09 L68.60,361.25 L69.10,361.67 L69.60,361.74 L70.10,361.70 L70.60,361.54 L71.10,361.70 L71.60,361.80 L72.10,361.82 L72.60,361.73 L73.10,361.74 L73.60,361.68 L74.10,361.62 L74.60,361.57 L75.10,361.51 L75.60,361.32 L76.10,361.19 L76.60,361.18 L77.10,361.01 L77.60,360.79 L78.10,360.74 L78.60,360.69 L79.10,360.56 L79.60,360.39 L80.10,360.27 L80.60,360.25 L81.10,360.31 L81.60,360.49 L82.10,360.70 L82.60,361.03 L83.10,361.44 L83.60,361.92 L84.10,362.29 L84.60,362.49 L85.10,362.60 L85.60,362.54 L86.10,362.40 L86.60,362.16 L87.10,361.98 L87.60,361.70 L88.10,361.41 L88.60,361.20 L89.10,360.98 L89.60,360.68 L90.10,360.45 L90.60,360.19 L91.10,359.98 L91.60,359.67 L92.10,359.34 L92.60,358.92 L93.10,358.56 L93.60,358.36 L94.10,358.14 L94.60,357.85 L95.10,357.45 L95.60,357.10 L96.10,356.93 L96.60,356.85 L97.10,356.88 L97.60,356.97 L98.10,357.21 L98.60,357.47 L99.10,357.68 L99.60,357.81 L100.10,357.81 L100.60,357.76 L101.10,357.57 L101.60,357.32 L102.10,356.94 L102.60,356.43 L103.10,355.82 L103.60,355.39 L104.10,355.22 L104.60,355.09 L105.10,355.08 L105.60,355.13 L106.10,355.27 L106.60,355.41 L107.10,355.58 L107.60,355.76 L108.10,356.03 L108.60,356.39 L109.10,356.79 L109.60,357.16 L110.10,357.48 L110.60,357.94 L111.10,358.64 L111.60,359.36 L112.10,360.02 L112.60,360.59 L113.10,361.11 L113.60,361.51 L114.10,361.81 L114.60,361.83 L115.10,361.58 L115.60,361.37 L116.10,361.21 L116.60,360.93 L117.10,360.58 L117.60,360.24 L118.10,359.85 L118.60,359.37 L119.10,358.85 L119.60,358.41 L120.10,358.01 L120.60,357.79 L121.10,357.81 L121.60,358.40 L122.10,359.36 L122.60,360.44 L123.10,361.35 L123.60,362.08 L124.10,362.42 L124.60,362.18 L125.10,361.33 L125.60,360.16 L126.10,358.65 L126.60,356.88 L127.10,355.03 L127.60,353.24 L128.10,351.58 L128.60,350.26 L129.10,349.42 L129.60,349.23 L130.10,349.64 L130.60,350.49 L131.10,351.48 L131.60,352.60 L132.10,353.68 L132.60,354.54 L133.10,355.04 L133.60,355.50 L134.10,355.89 L134.60,356.38 L135.10,356.89 L135.60,357.30 L136.10,357.49 L136.60,357.67 L137.10,357.72 L137.60,357.49 L138.10,357.04 L138.60,356.50 L139.10,355.94 L139.60,355.33 L140.10,354.81 L140.60,354.35 L141.10,354.03 L141.60,353.89 L142.10,353.83 L142.60,353.71 L143.10,353.54 L143.60,353.36 L144.10,353.38 L144.60,353.39 L145.10,353.48 L145.60,353.94 L146.10,355.00 L146.60,356.25 L147.10,357.49 L147.60,358.42 L148.10,359.30 L148.60,360.16 L149.10,361.01 L149.60,361.76 L150.10,362.35 L150.60,362.68 L151.10,362.53 L151.60,361.85 L152.10,360.85 L152.60,359.89 L153.10,359.08 L153.60,358.53 L154.10,358.25 L154.60,358.06 L155.10,357.89 L155.60,357.67 L156.10,357.57 L156.60,357.48 L157.10,357.32 L157.60,352.98 L158.10,343.23 L158.60,331.65 L159.10,322.02 L159.60,317.96 L160.10,320.45 L160.60,326.44 L161.10,333.71 L161.60,339.88 L162.10,343.43 L162.60,346.36 L163.10,349.19 L163.60,351.33 L164.10,352.64 L164.60,352.91 L165.10,352.74 L165.60,352.45 L166.10,352.23 L166.60,352.06 L167.10,352.03 L167.60,352.72 L168.10,354.27 L168.60,356.07 L169.10,357.74 L169.60,358.95 L170.10,359.58 L170.60,360.12 L171.10,360.64 L171.60,361.21 L172.10,361.71 L172.60,362.14 L173.10,362.34 L173.60,362.50 L174.10,362.47 L174.60,362.19 L175.10,361.61 L175.60,360.89 L176.10,359.92 L176.60,358.83 L177.10,357.69 L177.60,356.53 L178.10,355.45 L178.60,354.55 L179.10,353.67 L179.60,352.74 L180.10,351.88 L180.60,351.15 L181.10,350.70 L181.60,350.78 L182.10,351.05 L182.60,351.22 L183.10,351.33 L183.60,351.55 L184.10,351.71 L184.60,351.73 L185.10,351.24 L185.60,349.93 L186.10,348.01 L186.60,345.78 L187.10,343.66 L187.60,342.07 L188.10,341.39 L188.60,341.76 L189.10,343.08 L189.60,345.09 L190.10,347.27 L190.60,349.30 L191.10,351.03 L191.60,352.73 L192.10,354.44 L192.60,355.93 L193.10,357.28 L193.60,358.35 L194.10,359.15 L194.60,359.67 L195.10,360.16 L195.60,360.59 L196.10,361.04 L196.60,361.42 L197.10,361.76 L197.60,361.89 L198.10,361.92 L198.60,361.91 L199.10,361.98 L199.60,361.86 L200.10,361.79 L200.60,361.81 L201.10,361.90 L201.60,361.86 L202.10,361.82 L202.60,361.90 L203.10,361.98 L203.60,362.02 L204.10,362.01 L204.60,362.04 L205.10,361.98 L205.60,361.84 L206.10,361.73 L206.60,361.79 L207.10,361.84 L207.60,361.89 L208.10,361.86 L208.60,361.79 L209.10,361.60 L209.60,361.48 L210.10,361.50 L210.60,360.57 L211.10,358.47 L211.60,355.64 L212.10,352.71 L212.60,349.77 L213.10,347.07 L213.60,344.67 L214.10,342.12 L214.60,339.51 L215.10,336.95 L215.60,334.64 L216.10,332.64 L216.60,331.02 L217.10,329.98 L217.60,329.80 L218.10,330.76 L218.60,332.64 L219.10,335.07 L219.60,337.64 L220.10,340.18 L220.60,342.44 L221.10,344.70 L221.60,347.27 L222.10,350.09 L222.60,352.94 L223.10,355.72 L223.60,358.20 L224.10,360.23 L224.60,361.72 L225.10,362.54 L225.60,362.54 L226.10,361.76 L226.60,360.49 L227.10,358.72 L227.60,356.53 L228.10,353.96 L228.60,351.19 L229.10,348.27 L229.60,345.27 L230.10,342.38 L230.60,338.34 L231.10,332.67 L231.60,326.14 L232.10,319.72 L232.60,313.92 L233.10,309.62 L233.60,307.58 L234.10,308.42 L234.60,311.70 L235.10,316.56 L235.60,322.27 L236.10,327.90 L236.60,332.63 L237.10,337.26 L237.60,342.13 L238.10,346.89 L238.60,351.19 L239.10,354.65 L239.60,356.83 L240.10,357.89 L240.60,358.92 L241.10,359.91 L241.60,360.72 L242.10,361.33 L242.60,361.72 L243.10,362.05 L243.60,362.29 L244.10,362.37 L244.60,362.29 L245.10,362.04 L245.60,361.78 L246.10,361.38 L246.60,360.96 L247.10,360.62 L247.60,360.47 L248.10,360.41 L248.60,360.45 L249.10,360.56 L249.60,360.79 L250.10,361.12 L250.60,361.48 L251.10,361.72 L251.60,361.90 L252.10,362.06 L252.60,362.07 L253.10,361.87 L253.60,361.35 L254.10,360.79 L254.60,360.24 L255.10,359.66 L255.60,358.74 L256.10,357.89 L256.60,357.30 L257.10,356.56 L257.60,355.30 L258.10,353.94 L258.60,352.80 L259.10,351.99 L259.60,351.60 L260.10,351.81 L260.60,352.80 L261.10,354.43 L261.60,356.43 L262.10,358.52 L262.60,359.95 L263.10,360.43 L263.60,360.54 L264.10,360.80 L264.60,360.97 L265.10,361.17 L265.60,361.35 L266.10,361.58 L266.60,361.69 L267.10,361.81 L267.60,361.91 L268.10,362.02 L268.60,362.02 L269.10,361.94 L269.60,361.91 L270.10,361.90 L270.60,361.76 L271.10,361.55 L271.60,361.32 L272.10,361.09 L272.60,360.69 L273.10,360.43 L273.60,360.33 L274.10,360.28 L274.60,360.03 L275.10,359.71 L275.60,359.41 L276.10,359.20 L276.60,359.06 L277.10,358.98 L277.60,358.91 L278.10,358.92 L278.60,359.15 L279.10,359.57 L279.60,360.13 L280.10,360.65 L280.60,361.15 L281.10,361.55 L281.60,361.73 L282.10,361.68 L282.60,361.66 L283.10,361.73 L283.60,361.82 L284.10,361.77 L284.60,361.74 L285.10,361.67 L285.60,361.66 L286.10,361.61 L286.60,361.60 L287.10,361.60 L287.60,361.56 L288.10,361.51 L288.60,361.50 L289.10,361.47 L289.60,361.37 L290.10,361.26 L290.60,361.21 L291.10,361.18 L291.60,361.17 L292.10,361.30 L292.60,361.39 L293.10,361.34 L293.60,361.20 L294.10,361.17 L294.60,361.22 L295.10,361.27 L295.60,361.21 L296.10,361.22 L296.60,361.17 L297.10,361.18 L297.60,361.07 L298.10,361.03 L298.60,360.94 L299.10,361.09 L299.60,361.31 L300.10,361.36 L300.60,361.20 L301.10,361.22 L301.60,361.28 L302.10,361.34 L302.60,361.41 L303.10,361.53 L303.60,361.58 L304.10,361.53 L304.60,361.42 L305.10,361.30 L305.60,361.23 L306.10,361.33 L306.60,361.36 L307.10,361.43 L307.60,361.43 L308.10,361.46 L308.60,361.49 L309.10,361.52 L309.60,361.51 L310.10,361.54 L310.60,361.60 L311.10,361.56 L311.60,361.56 L312.10,361.55 L312.60,361.60 L313.10,361.60 L313.60,361.67 L314.10,361.62 L314.60,361.58 L315.10,361.60 L315.60,361.59 L316.10,361.65 L316.60,361.68 L317.10,361.68 L317.60,361.71 L318.10,361.75 L318.60,361.69 L319.10,361.62 L319.60,361.69 L320.10,361.77 L320.60,361.88 L321.10,361.89 L321.60,361.92 L322.10,361.91 L322.60,362.00 L323.10,361.95 L323.60,361.88 L324.10,361.80 L324.60,361.83 L325.10,361.91 L325.60,362.01 L326.10,361.93 L326.60,361.89 L327.10,361.88 L327.60,361.96 L328.10,361.87 L328.60,361.84" fill="none" stroke="#a865e6" stroke-width="1.6" stroke-linejoin="round" stroke-linecap="round"/>
<path d="M28.60,399.94 L29.10,399.76 L29.60,399.52 L30.10,399.34 L30.60,399.04 L31.10,398.87 L31.60,398.56 L32.10,398.31 L32.60,398.07 L33.10,397.92 L33.60,397.61 L34.10,397.21 L34.60,396.62 L35.10,396.11 L35.60,395.76 L36.10,395.43 L36.60,395.01 L37.10,394.62 L37.60,394.49 L38.10,394.37 L38.60,394.45 L39.10,394.58 L39.60,394.79 L40.10,394.85 L40.60,395.07 L41.10,395.30 L41.60,395.70 L42.10,396.13 L42.60,396.65 L43.10,397.20 L43.60,397.89 L44.10,398.58 L44.60,399.16 L45.10,399.66 L45.60,400.09 L46.10,400.37 L46.60,400.56 L47.10,400.60 L47.60,400.57 L48.10,400.44 L48.60,400.30 L49.10,400.02 L49.60,399.64 L50.10,399.23 L50.60,398.80 L51.10,398.45 L51.60,397.96 L52.10,397.51 L52.60,396.89 L53.10,396.32 L53.60,395.74 L54.10,395.41 L54.60,395.26 L55.10,395.24 L55.60,395.33 L56.10,395.48 L56.60,395.57 L57.10,395.57 L57.60,395.64 L58.10,395.79 L58.60,396.01 L59.10,396.20 L59.60,396.43 L60.10,396.53 L60.60,396.66 L61.10,396.78 L61.60,396.82 L62.10,396.62 L62.60,396.31 L63.10,395.99 L63.60,395.64 L64.10,395.24 L64.60,394.97 L65.10,394.85 L65.60,394.95 L66.10,395.14 L66.60,395.45 L67.10,395.88 L67.60,396.36 L68.10,396.74 L68.60,397.00 L69.10,397.38 L69.60,397.87 L70.10,398.31 L70.60,398.56 L71.10,398.86 L71.60,399.28 L72.10,399.65 L72.60,399.70 L73.10,399.76 L73.60,399.79 L74.10,399.92 L74.60,399.91 L75.10,400.02 L75.60,400.05 L76.10,400.06 L76.60,399.98 L77.10,399.59 L77.60,398.98 L78.10,398.23 L78.60,397.47 L79.10,396.84 L79.60,396.38 L80.10,396.13 L80.60,396.01 L81.10,396.04 L81.60,396.19 L82.10,396.40 L82.60,396.55 L83.10,396.80 L83.60,397.29 L84.10,397.84 L84.60,398.37 L85.10,398.70 L85.60,399.00 L86.10,399.12 L86.60,399.27 L87.10,399.39 L87.60,399.46 L88.10,399.52 L88.60,399.53 L89.10,399.55 L89.60,399.46 L90.10,399.45 L90.60,399.39 L91.10,399.21 L91.60,398.85 L92.10,398.44 L92.60,398.18 L93.10,397.96 L93.60,397.93 L94.10,397.96 L94.60,398.05 L95.10,398.03 L95.60,397.98 L96.10,397.99 L96.60,398.09 L97.10,398.33 L97.60,398.46 L98.10,398.67 L98.60,398.90 L99.10,399.20 L99.60,399.39 L100.10,399.64 L100.60,399.89 L101.10,400.00 L101.60,399.85 L102.10,399.51 L102.60,398.98 L103.10,398.40 L103.60,397.75 L104.10,397.15 L104.60,396.56 L105.10,395.90 L105.60,395.29 L106.10,394.81 L106.60,394.63 L107.10,394.49 L107.60,394.41 L108.10,394.46 L108.60,394.65 L109.10,394.80 L109.60,394.96 L110.10,395.14 L110.60,395.35 L111.10,395.58 L111.60,395.97 L112.10,396.51 L112.60,397.27 L113.10,398.01 L113.60,398.77 L114.10,399.34 L114.60,399.95 L115.10,400.14 L115.60,400.12 L116.10,399.89 L116.60,399.70 L117.10,399.41 L117.60,399.16 L118.10,398.90 L118.60,398.75 L119.10,398.65 L119.60,398.41 L120.10,398.02 L120.60,397.68 L121.10,397.56 L121.60,397.62 L122.10,397.83 L122.60,398.14 L123.10,398.51 L123.60,398.96 L124.10,399.34 L124.60,399.59 L125.10,399.34 L125.60,398.77 L126.10,397.95 L126.60,397.06 L127.10,396.02 L127.60,394.81 L128.10,393.62 L128.60,392.73 L129.10,392.25 L129.60,392.04 L130.10,392.22 L130.60,392.64 L131.10,393.19 L131.60,393.60 L132.10,394.08 L132.60,394.48 L133.10,394.79 L133.60,395.00 L134.10,394.97 L134.60,394.89 L135.10,394.67 L135.60,394.66 L136.10,394.54 L136.60,394.39 L137.10,394.05 L137.60,393.71 L138.10,393.42 L138.60,393.01 L139.10,392.33 L139.60,391.54 L140.10,391.15 L140.60,390.92 L141.10,390.73 L141.60,390.69 L142.10,391.15 L142.60,391.89 L143.10,392.59 L143.60,393.25 L144.10,393.90 L144.60,394.51 L145.10,395.20 L145.60,395.94 L146.10,396.81 L146.60,397.56 L147.10,398.26 L147.60,398.93 L148.10,399.62 L148.60,400.08 L149.10,400.33 L149.60,400.48 L150.10,400.44 L150.60,400.19 L151.10,399.67 L151.60,399.01 L152.10,398.16 L152.60,397.41 L153.10,396.80 L153.60,396.52 L154.10,396.51 L154.60,397.05 L155.10,397.72 L155.60,398.37 L156.10,398.49 L156.60,397.09 L157.10,394.17 L157.60,390.41 L158.10,386.34 L158.60,382.51 L159.10,379.81 L159.60,378.77 L160.10,380.20 L160.60,383.56 L161.10,387.90 L161.60,391.95 L162.10,394.71 L162.60,395.32 L163.10,395.44 L163.60,395.37 L164.10,395.17 L164.60,394.93 L165.10,394.87 L165.60,394.92 L166.10,394.94 L166.60,394.95 L167.10,395.26 L167.60,395.83 L168.10,396.52 L168.60,397.27 L169.10,397.97 L169.60,398.48 L170.10,398.86 L170.60,399.22 L171.10,399.53 L171.60,399.78 L172.10,400.02 L172.60,400.30 L173.10,400.45 L173.60,400.56 L174.10,400.48 L174.60,400.28 L175.10,399.77 L175.60,399.15 L176.10,398.42 L176.60,397.65 L177.10,396.61 L177.60,395.57 L178.10,394.58 L178.60,393.77 L179.10,393.03 L179.60,392.53 L180.10,392.26 L180.60,392.21 L181.10,392.37 L181.60,392.54 L182.10,392.69 L182.60,392.71 L183.10,392.90 L183.60,393.05 L184.10,393.18 L184.60,393.13 L185.10,392.56 L185.60,391.04 L186.10,388.94 L186.60,386.59 L187.10,384.48 L187.60,382.92 L188.10,382.24 L188.60,382.64 L189.10,383.87 L189.60,385.53 L190.10,387.46 L190.60,389.60 L191.10,391.67 L191.60,393.42 L192.10,394.55 L192.60,395.38 L193.10,396.14 L193.60,396.94 L194.10,397.70 L194.60,398.22 L195.10,398.61 L195.60,398.97 L196.10,399.16 L196.60,399.23 L197.10,399.26 L197.60,399.29 L198.10,399.26 L198.60,399.33 L199.10,399.38 L199.60,399.45 L200.10,399.38 L200.60,399.40 L201.10,399.44 L201.60,399.57 L202.10,399.64 L202.60,399.69 L203.10,399.70 L203.60,399.65 L204.10,399.57 L204.60,399.47 L205.10,399.44 L205.60,399.49 L206.10,399.57 L206.60,399.58 L207.10,399.49 L207.60,399.38 L208.10,399.25 L208.60,399.10 L209.10,398.92 L209.60,398.77 L210.10,398.54 L210.60,397.46 L211.10,395.47 L211.60,392.92 L212.10,390.27 L212.60,387.67 L213.10,385.34 L213.60,383.22 L214.10,381.01 L214.60,378.79 L215.10,376.75 L215.60,374.89 L216.10,373.35 L216.60,372.23 L217.10,371.83 L217.60,372.05 L218.10,372.81 L218.60,373.91 L219.10,375.37 L219.60,377.01 L220.10,378.77 L220.60,380.50 L221.10,382.55 L221.60,384.89 L222.10,387.36 L222.60,390.02 L223.10,392.76 L223.60,395.21 L224.10,397.18 L224.60,398.71 L225.10,399.46 L225.60,399.49 L226.10,398.93 L226.60,397.95 L227.10,396.46 L227.60,394.71 L228.10,392.81 L228.60,390.78 L229.10,388.65 L229.60,386.49 L230.10,384.58 L230.60,382.50 L231.10,380.01 L231.60,377.12 L232.10,374.17 L232.60,371.62 L233.10,369.76 L233.60,368.58 L234.10,368.39 L234.60,369.69 L235.10,372.35 L235.60,375.88 L236.10,379.81 L236.60,383.47 L237.10,386.64 L237.60,388.93 L238.10,390.76 L238.60,392.51 L239.10,394.27 L239.60,395.92 L240.10,397.36 L240.60,398.45 L241.10,399.21 L241.60,399.65 L242.10,399.65 L242.60,399.55 L243.10,399.41 L243.60,399.38 L244.10,399.27 L244.60,399.13 L245.10,398.89 L245.60,398.65 L246.10,398.44 L246.60,398.36 L247.10,398.31 L247.60,398.21 L248.10,398.13 L248.60,398.18 L249.10,398.26 L249.60,398.30 L250.10,398.26 L250.60,398.24 L251.10,398.46 L251.60,398.61 L252.10,398.66 L252.60,398.56 L253.10,398.53 L253.60,398.57 L254.10,398.62 L254.60,398.62 L255.10,398.36 L255.60,397.87 L256.10,397.22 L256.60,396.31 L257.10,395.41 L257.60,394.55 L258.10,393.76 L258.60,392.97 L259.10,392.36 L259.60,392.14 L260.10,392.23 L260.60,392.70 L261.10,393.61 L261.60,394.84 L262.10,396.11 L262.60,397.22 L263.10,398.23 L263.60,398.98 L264.10,399.29 L264.60,399.18 L265.10,399.12 L265.60,399.05 L266.10,399.15 L266.60,399.12 L267.10,399.16 L267.60,399.07 L268.10,399.01 L268.60,398.98 L269.10,398.95 L269.60,399.01 L270.10,398.95 L270.60,398.88 L271.10,398.83 L271.60,398.83 L272.10,398.69 L272.60,398.36 L273.10,398.19 L273.60,398.08 L274.10,397.94 L274.60,397.60 L275.10,397.25 L275.60,396.93 L276.10,396.81 L276.60,396.70 L277.10,396.65 L277.60,396.44 L278.10,396.49 L278.60,396.68 L279.10,396.97 L279.60,397.26 L280.10,397.81 L280.60,398.49 L281.10,398.82 L281.60,398.93 L282.10,398.99 L282.60,399.07 L283.10,399.07 L283.60,399.02 L284.10,399.07 L284.60,399.01 L285.10,398.98 L285.60,398.92 L286.10,398.95 L286.60,398.93 L287.10,398.97 L287.60,398.94 L288.10,398.97 L288.60,398.81 L289.10,398.68 L289.60,398.60 L290.10,398.64 L290.60,398.46 L291.10,398.34 L291.60,398.30 L292.10,398.47 L292.60,398.44 L293.10,398.41 L293.60,398.20 L294.10,398.17 L294.60,397.98 L295.10,397.88 L295.60,397.82 L296.10,397.85 L296.60,397.90 L297.10,397.93 L297.60,398.05 L298.10,397.95 L298.60,397.85 L299.10,397.81 L299.60,397.88 L300.10,397.94 L300.60,397.96 L301.10,397.95 L301.60,397.89 L302.10,397.90 L302.60,397.95 L303.10,397.93 L303.60,397.88 L304.10,397.85 L304.60,397.91 L305.10,398.06 L305.60,398.02 L306.10,397.87 L306.60,397.77 L307.10,397.93 L307.60,397.96 L308.10,398.05 L308.60,398.14 L309.10,398.07 L309.60,397.92 L310.10,397.90 L310.60,398.00 L311.10,397.86 L311.60,397.83 L312.10,397.87 L312.60,398.01 L313.10,398.06 L313.60,398.03 L314.10,398.06 L314.60,398.17 L315.10,398.30 L315.60,398.21 L316.10,398.16 L316.60,398.12 L317.10,398.09 L317.60,397.96 L318.10,397.96 L318.60,397.94 L319.10,398.04 L319.60,398.02 L320.10,398.11 L320.60,398.11 L321.10,398.13 L321.60,398.07 L322.10,398.08 L322.60,398.24 L323.10,398.36 L323.60,398.38 L324.10,398.36 L324.60,398.33 L325.10,398.26 L325.60,398.20 L326.10,398.34 L326.60,398.46 L327.10,398.52 L327.60,398.51 L328.10,398.54 L328.60,398.55" fill="none" stroke="#41ad66" stroke-width="1.6" stroke-linejoin="round" stroke-linecap="round"/>
<path d="M28.10,445.42 L28.60,445.13 L29.10,444.77 L29.60,444.52 L30.10,444.34 L30.60,444.19 L31.10,444.07 L31.60,443.97 L32.10,443.83 L32.60,443.64 L33.10,443.47 L33.60,443.30 L34.10,443.29 L34.60,443.25 L35.10,443.20 L35.60,443.10 L36.10,443.11 L36.60,443.06 L37.10,442.94 L37.60,442.98 L38.10,443.01 L38.60,443.09 L39.10,443.03 L39.60,443.19 L40.10,443.26 L40.60,443.52 L41.10,443.72 L41.60,443.86 L42.10,444.02 L42.60,444.15 L43.10,444.34 L43.60,444.52 L44.10,444.80 L44.60,445.01 L45.10,445.12 L45.60,445.20 L46.10,445.27 L46.60,445.35 L47.10,445.34 L47.60,445.27 L48.10,445.21 L48.60,445.04 L49.10,444.80 L49.60,444.79 L50.10,444.85 L50.60,444.61 L51.10,444.28 L51.60,444.07 L52.10,443.94 L52.60,443.73 L53.10,443.46 L53.60,443.28 L54.10,443.18 L54.60,443.14 L55.10,443.07 L55.60,442.97 L56.10,442.91 L56.60,442.87 L57.10,442.89 L57.60,443.00 L58.10,443.07 L58.60,443.25 L59.10,443.28 L59.60,443.29 L60.10,443.26 L60.60,443.47 L61.10,443.56 L61.60,443.66 L62.10,443.71 L62.60,443.82 L63.10,443.91 L63.60,444.09 L64.10,444.27 L64.60,444.26 L65.10,444.30 L65.60,444.41 L66.10,444.56 L66.60,444.60 L67.10,444.64 L67.60,444.69 L68.10,444.79 L68.60,444.97 L69.10,445.05 L69.60,445.07 L70.10,445.11 L70.60,445.13 L71.10,445.21 L71.60,445.28 L72.10,445.43 L72.60,445.38 L73.10,445.31 L73.60,445.22 L74.10,445.24 L74.60,445.21 L75.10,445.19 L75.60,445.16 L76.10,445.07 L76.60,444.94 L77.10,444.86 L77.60,444.81 L78.10,444.67 L78.60,444.55 L79.10,444.39 L79.60,444.33 L80.10,444.31 L80.60,444.33 L81.10,444.25 L81.60,444.22 L82.10,444.24 L82.60,444.25 L83.10,444.30 L83.60,444.53 L84.10,444.78 L84.60,444.89 L85.10,444.96 L85.60,445.12 L86.10,445.27 L86.60,445.33 L87.10,445.31 L87.60,445.15 L88.10,445.05 L88.60,444.92 L89.10,444.74 L89.60,444.48 L90.10,444.33 L90.60,444.12 L91.10,443.87 L91.60,443.59 L92.10,443.34 L92.60,443.09 L93.10,442.74 L93.60,442.52 L94.10,442.18 L94.60,442.02 L95.10,441.85 L95.60,441.80 L96.10,441.74 L96.60,441.73 L97.10,441.70 L97.60,441.62 L98.10,441.53 L98.60,441.41 L99.10,441.24 L99.60,441.22 L100.10,441.20 L100.60,441.08 L101.10,440.86 L101.60,440.74 L102.10,440.71 L102.60,440.79 L103.10,440.86 L103.60,440.94 L104.10,440.89 L104.60,440.87 L105.10,440.96 L105.60,441.04 L106.10,441.08 L106.60,441.07 L107.10,441.27 L107.60,441.63 L108.10,441.92 L108.60,442.12 L109.10,442.27 L109.60,442.46 L110.10,442.52 L110.60,442.70 L111.10,443.08 L111.60,443.38 L112.10,443.65 L112.60,444.06 L113.10,444.48 L113.60,444.81 L114.10,445.05 L114.60,445.26 L115.10,445.31 L115.60,445.22 L116.10,445.04 L116.60,444.77 L117.10,444.39 L117.60,444.02 L118.10,443.70 L118.60,443.48 L119.10,443.23 L119.60,443.02 L120.10,443.03 L120.60,443.20 L121.10,443.44 L121.60,443.65 L122.10,444.02 L122.60,444.39 L123.10,444.73 L123.60,444.98 L124.10,445.13 L124.60,445.12 L125.10,444.69 L125.60,444.04 L126.10,443.01 L126.60,441.92 L127.10,440.65 L127.60,439.52 L128.10,438.48 L128.60,437.61 L129.10,437.18 L129.60,437.24 L130.10,437.76 L130.60,438.43 L131.10,439.39 L131.60,440.36 L132.10,441.37 L132.60,442.09 L133.10,442.51 L133.60,442.45 L134.10,442.41 L134.60,442.32 L135.10,442.24 L135.60,442.27 L136.10,442.27 L136.60,442.26 L137.10,442.18 L137.60,442.15 L138.10,442.09 L138.60,442.06 L139.10,441.94 L139.60,441.75 L140.10,441.56 L140.60,441.46 L141.10,441.37 L141.60,441.31 L142.10,441.26 L142.60,441.16 L143.10,440.97 L143.60,440.85 L144.10,440.82 L144.60,440.92 L145.10,441.10 L145.60,441.41 L146.10,441.83 L146.60,442.35 L147.10,442.91 L147.60,443.53 L148.10,444.18 L148.60,444.83 L149.10,445.32 L149.60,445.62 L150.10,445.85 L150.60,446.02 L151.10,445.96 L151.60,445.65 L152.10,445.36 L152.60,445.10 L153.10,444.61 L153.60,444.09 L154.10,443.55 L154.60,442.98 L155.10,442.29 L155.60,441.21 L156.10,438.69 L156.60,435.10 L157.10,430.95 L157.60,426.49 L158.10,422.16 L158.60,418.41 L159.10,415.74 L159.60,414.40 L160.10,415.33 L160.60,418.94 L161.10,424.16 L161.60,429.83 L162.10,434.98 L162.60,438.63 L163.10,439.65 L163.60,439.46 L164.10,439.35 L164.60,439.21 L165.10,439.10 L165.60,438.81 L166.10,438.64 L166.60,438.60 L167.10,439.01 L167.60,439.60 L168.10,440.49 L168.60,441.41 L169.10,442.31 L169.60,442.86 L170.10,443.39 L170.60,443.80 L171.10,444.35 L171.60,444.74 L172.10,445.14 L172.60,445.35 L173.10,445.68 L173.60,445.86 L174.10,445.87 L174.60,445.64 L175.10,445.37 L175.60,444.95 L176.10,444.32 L176.60,443.55 L177.10,442.82 L177.60,442.07 L178.10,441.24 L178.60,440.35 L179.10,439.71 L179.60,439.22 L180.10,438.82 L180.60,438.51 L181.10,438.37 L181.60,438.49 L182.10,438.61 L182.60,438.81 L183.10,438.98 L183.60,439.12 L184.10,439.22 L184.60,439.24 L185.10,439.26 L185.60,439.06 L186.10,438.59 L186.60,437.83 L187.10,436.92 L187.60,436.06 L188.10,435.34 L188.60,434.87 L189.10,434.92 L189.60,435.35 L190.10,436.08 L190.60,437.16 L191.10,438.41 L191.60,439.64 L192.10,440.69 L192.60,441.55 L193.10,442.08 L193.60,442.64 L194.10,443.24 L194.60,443.80 L195.10,444.28 L195.60,444.72 L196.10,445.02 L196.60,445.20 L197.10,445.29 L197.60,445.33 L198.10,445.39 L198.60,445.36 L199.10,445.32 L199.60,445.27 L200.10,445.21 L200.60,445.21 L201.10,445.22 L201.60,445.23 L202.10,445.19 L202.60,445.33 L203.10,445.37 L203.60,445.41 L204.10,445.25 L204.60,445.21 L205.10,445.26 L205.60,445.39 L206.10,445.38 L206.60,445.25 L207.10,445.11 L207.60,445.06 L208.10,445.14 L208.60,445.26 L209.10,445.29 L209.60,445.21 L210.10,445.08 L210.60,444.23 L211.10,442.83 L211.60,441.08 L212.10,439.31 L212.60,437.57 L213.10,436.12 L213.60,434.98 L214.10,433.78 L214.60,432.62 L215.10,431.59 L215.60,430.73 L216.10,430.09 L216.60,429.64 L217.10,429.36 L217.60,429.54 L218.10,430.56 L218.60,432.01 L219.10,433.52 L219.60,434.93 L220.10,436.46 L220.60,437.89 L221.10,438.95 L221.60,439.78 L222.10,440.66 L222.60,441.65 L223.10,442.74 L223.60,443.68 L224.10,444.46 L224.60,444.99 L225.10,445.30 L225.60,445.31 L226.10,444.86 L226.60,443.73 L227.10,442.19 L227.60,440.12 L228.10,437.84 L228.60,435.31 L229.10,432.87 L229.60,430.25 L230.10,427.60 L230.60,424.11 L231.10,420.13 L231.60,415.95 L232.10,411.86 L232.60,408.55 L233.10,406.62 L233.60,406.56 L234.10,408.08 L234.60,410.77 L235.10,414.24 L235.60,417.96 L236.10,421.67 L236.60,424.74 L237.10,428.04 L237.60,431.57 L238.10,435.28 L238.60,438.51 L239.10,441.17 L239.60,442.82 L240.10,443.46 L240.60,443.90 L241.10,444.31 L241.60,444.59 L242.10,444.83 L242.60,445.03 L243.10,445.24 L243.60,445.32 L244.10,445.21 L244.60,445.11 L245.10,445.05 L245.60,445.00 L246.10,444.78 L246.60,444.57 L247.10,444.35 L247.60,444.19 L248.10,444.08 L248.60,443.98 L249.10,443.90 L249.60,443.81 L250.10,443.82 L250.60,443.92 L251.10,444.14 L251.60,444.40 L252.10,444.66 L252.60,445.00 L253.10,445.18 L253.60,445.33 L254.10,445.30 L254.60,445.19 L255.10,444.88 L255.60,444.46 L256.10,443.72 L256.60,442.92 L257.10,442.22 L257.60,441.54 L258.10,440.82 L258.60,440.25 L259.10,439.95 L259.60,439.87 L260.10,439.93 L260.60,440.22 L261.10,440.84 L261.60,441.74 L262.10,442.65 L262.60,443.35 L263.10,443.99 L263.60,444.30 L264.10,444.51 L264.60,444.55 L265.10,444.66 L265.60,444.65 L266.10,444.82 L266.60,445.06 L267.10,445.15 L267.60,445.11 L268.10,445.14 L268.60,445.20 L269.10,445.23 L269.60,445.25 L270.10,445.37 L270.60,445.37 L271.10,445.20 L271.60,445.10 L272.10,445.18 L272.60,445.26 L273.10,445.14 L273.60,444.95 L274.10,444.84 L274.60,444.74 L275.10,444.63 L275.60,444.44 L276.10,444.32 L276.60,444.20 L277.10,444.05 L277.60,443.83 L278.10,443.72 L278.60,443.72 L279.10,443.88 L279.60,444.02 L280.10,444.10 L280.60,444.19 L281.10,444.37 L281.60,444.53 L282.10,444.67 L282.60,444.77 L283.10,444.93 L283.60,445.15 L284.10,445.38 L284.60,445.46 L285.10,445.43 L285.60,445.42 L286.10,445.33 L286.60,445.24 L287.10,445.18 L287.60,445.26 L288.10,445.34 L288.60,445.48 L289.10,445.46 L289.60,445.33 L290.10,445.24 L290.60,445.26 L291.10,445.32 L291.60,445.32 L292.10,445.34 L292.60,445.30 L293.10,445.30 L293.60,445.34 L294.10,445.38 L294.60,445.38 L295.10,445.31 L295.60,445.32 L296.10,445.31 L296.60,445.29 L297.10,445.23 L297.60,445.22 L298.10,445.24 L298.60,445.23 L299.10,445.32 L299.60,445.40 L300.10,445.43 L300.60,445.37 L301.10,445.32 L301.60,445.32 L302.10,445.30 L302.60,445.28 L303.10,445.20 L303.60,445.25 L304.10,445.34 L304.60,445.42 L305.10,445.41 L305.60,445.24 L306.10,445.13 L306.60,445.16 L307.10,445.30 L307.60,445.21 L308.10,445.14 L308.60,445.17 L309.10,445.22 L309.60,445.12 L310.10,445.04 L310.60,444.93 L311.10,444.95 L311.60,444.98 L312.10,445.08 L312.60,445.05 L313.10,445.08 L313.60,445.16 L314.10,445.15 L314.60,445.09 L315.10,444.91 L315.60,444.88 L316.10,444.81 L316.60,444.91 L317.10,444.97 L317.60,445.01 L318.10,444.99 L318.60,444.95 L319.10,444.93 L319.60,444.85 L320.10,444.83 L320.60,444.81 L321.10,444.81 L321.60,444.83 L322.10,444.78 L322.60,444.70 L323.10,444.75 L323.60,444.85 L324.10,444.87 L324.60,444.78 L325.10,444.71 L325.60,444.70 L326.10,444.63 L326.60,444.65 L327.10,444.66 L327.60,444.70 L328.10,444.68 L328.60,444.66" fill="none" stroke="#3a6de2" stroke-width="1.6" stroke-linejoin="round" stroke-linecap="round"/>
<path d="M28.10,476.87 L28.60,476.92 L29.10,476.82 L29.60,476.65 L30.10,476.70 L30.60,476.78 L31.10,476.80 L31.60,476.70 L32.10,476.78 L32.60,476.84 L33.10,476.89 L33.60,476.79 L34.10,476.70 L34.60,476.72 L35.10,476.73 L35.60,476.61 L36.10,476.59 L36.60,476.71 L37.10,476.74 L37.60,476.64 L38.10,476.64 L38.60,476.71 L39.10,476.77 L39.60,476.82 L40.10,476.76 L40.60,476.64 L41.10,476.63 L41.60,476.73 L42.10,476.71 L42.60,476.70 L43.10,476.64 L43.60,476.66 L44.10,476.54 L44.60,476.56 L45.10,476.65 L45.60,476.83 L46.10,476.76 L46.60,476.49 L47.10,476.39 L47.60,476.53 L48.10,476.69 L48.60,476.67 L49.10,476.56 L49.60,476.50 L50.10,476.44 L50.60,476.44 L51.10,476.44 L51.60,476.58 L52.10,476.69 L52.60,476.66 L53.10,476.57 L53.60,476.53 L54.10,476.53 L54.60,476.55 L55.10,476.54 L55.60,476.56 L56.10,476.56 L56.60,476.67 L57.10,476.65 L57.60,476.66 L58.10,476.59 L58.60,476.65 L59.10,476.59 L59.60,476.57 L60.10,476.53 L60.60,476.54 L61.10,476.54 L61.60,476.60 L62.10,476.66 L62.60,476.63 L63.10,476.60 L63.60,476.61 L64.10,476.71 L64.60,476.80 L65.10,476.90 L65.60,476.91 L66.10,476.97 L66.60,476.93 L67.10,476.88 L67.60,476.81 L68.10,476.79 L68.60,476.81 L69.10,476.84 L69.60,476.88 L70.10,476.87 L70.60,476.90 L71.10,476.82 L71.60,476.80 L72.10,476.78 L72.60,476.80 L73.10,476.75 L73.60,476.78 L74.10,476.86 L74.60,476.87 L75.10,476.86 L75.60,476.85 L76.10,476.90 L76.60,476.92 L77.10,476.94 L77.60,476.87 L78.10,476.75 L78.60,476.76 L79.10,476.77 L79.60,476.82 L80.10,476.78 L80.60,476.88 L81.10,476.85 L81.60,476.80 L82.10,476.62 L82.60,476.62 L83.10,476.67 L83.60,476.72 L84.10,476.65 L84.60,476.71 L85.10,476.77 L85.60,476.81 L86.10,476.73 L86.60,476.70 L87.10,476.71 L87.60,476.70 L88.10,476.72 L88.60,476.68 L89.10,476.74 L89.60,476.65 L90.10,476.54 L90.60,476.38 L91.10,476.31 L91.60,476.21 L92.10,476.08 L92.60,476.02 L93.10,475.89 L93.60,475.77 L94.10,475.63 L94.60,475.51 L95.10,475.29 L95.60,475.19 L96.10,474.96 L96.60,474.75 L97.10,474.57 L97.60,474.62 L98.10,474.55 L98.60,474.49 L99.10,474.40 L99.60,474.33 L100.10,474.16 L100.60,474.02 L101.10,473.97 L101.60,473.89 L102.10,473.76 L102.60,473.56 L103.10,473.52 L103.60,473.47 L104.10,473.52 L104.60,473.48 L105.10,473.54 L105.60,473.57 L106.10,473.73 L106.60,473.92 L107.10,474.27 L107.60,474.51 L108.10,474.70 L108.60,474.90 L109.10,475.17 L109.60,475.31 L110.10,475.42 L110.60,475.60 L111.10,475.86 L111.60,476.08 L112.10,476.22 L112.60,476.36 L113.10,476.67 L113.60,477.05 L114.10,477.20 L114.60,477.20 L115.10,477.22 L115.60,477.19 L116.10,476.97 L116.60,476.85 L117.10,476.77 L117.60,476.69 L118.10,476.46 L118.60,476.33 L119.10,476.22 L119.60,476.24 L120.10,476.26 L120.60,476.31 L121.10,476.31 L121.60,476.46 L122.10,476.56 L122.60,476.55 L123.10,476.63 L123.60,476.84 L124.10,477.01 L124.60,476.81 L125.10,476.50 L125.60,476.05 L126.10,475.42 L126.60,474.57 L127.10,473.83 L127.60,473.12 L128.10,472.47 L128.60,471.90 L129.10,471.68 L129.60,471.72 L130.10,472.18 L130.60,472.84 L131.10,473.79 L131.60,474.64 L132.10,475.39 L132.60,475.94 L133.10,476.29 L133.60,476.21 L134.10,476.10 L134.60,476.05 L135.10,476.07 L135.60,475.96 L136.10,475.89 L136.60,475.83 L137.10,475.69 L137.60,475.40 L138.10,475.19 L138.60,475.12 L139.10,475.11 L139.60,474.95 L140.10,474.76 L140.60,474.54 L141.10,474.46 L141.60,474.52 L142.10,474.74 L142.60,474.87 L143.10,474.88 L143.60,474.90 L144.10,475.14 L144.60,475.46 L145.10,475.71 L145.60,475.83 L146.10,475.99 L146.60,476.24 L147.10,476.61 L147.60,476.89 L148.10,477.04 L148.60,477.13 L149.10,477.25 L149.60,477.36 L150.10,477.31 L150.60,477.22 L151.10,477.03 L151.60,476.91 L152.10,476.69 L152.60,476.38 L153.10,475.95 L153.60,475.55 L154.10,475.23 L154.60,474.84 L155.10,474.34 L155.60,473.50 L156.10,471.86 L156.60,469.60 L157.10,467.07 L157.60,464.48 L158.10,461.99 L158.60,459.85 L159.10,458.19 L159.60,457.39 L160.10,457.91 L160.60,460.02 L161.10,462.95 L161.60,466.30 L162.10,469.56 L162.60,471.90 L163.10,472.83 L163.60,473.14 L164.10,473.41 L164.60,473.52 L165.10,473.61 L165.60,473.74 L166.10,473.95 L166.60,474.23 L167.10,474.52 L167.60,474.74 L168.10,474.98 L168.60,475.27 L169.10,475.53 L169.60,475.80 L170.10,476.12 L170.60,476.41 L171.10,476.68 L171.60,476.91 L172.10,477.15 L172.60,477.24 L173.10,477.24 L173.60,477.28 L174.10,477.10 L174.60,476.82 L175.10,476.38 L175.60,476.15 L176.10,475.89 L176.60,475.67 L177.10,475.21 L177.60,474.72 L178.10,474.18 L178.60,473.74 L179.10,473.33 L179.60,472.91 L180.10,472.50 L180.60,472.13 L181.10,471.94 L181.60,471.78 L182.10,471.59 L182.60,471.37 L183.10,471.14 L183.60,470.93 L184.10,470.72 L184.60,470.63 L185.10,470.56 L185.60,470.43 L186.10,470.42 L186.60,470.43 L187.10,470.44 L187.60,470.40 L188.10,470.37 L188.60,470.39 L189.10,470.40 L189.60,470.55 L190.10,470.74 L190.60,471.19 L191.10,471.81 L191.60,472.54 L192.10,473.27 L192.60,473.97 L193.10,474.57 L193.60,475.08 L194.10,475.54 L194.60,475.93 L195.10,476.07 L195.60,476.14 L196.10,476.20 L196.60,476.36 L197.10,476.41 L197.60,476.49 L198.10,476.40 L198.60,476.44 L199.10,476.55 L199.60,476.70 L200.10,476.75 L200.60,476.75 L201.10,476.75 L201.60,476.76 L202.10,476.80 L202.60,476.84 L203.10,476.80 L203.60,476.74 L204.10,476.59 L204.60,476.58 L205.10,476.59 L205.60,476.64 L206.10,476.65 L206.60,476.70 L207.10,476.70 L207.60,476.57 L208.10,476.50 L208.60,476.43 L209.10,476.39 L209.60,476.27 L210.10,476.23 L210.60,475.58 L211.10,474.39 L211.60,472.86 L212.10,471.38 L212.60,469.96 L213.10,468.83 L213.60,468.14 L214.10,467.64 L214.60,467.20 L215.10,466.70 L215.60,466.21 L216.10,465.85 L216.60,465.73 L217.10,465.65 L217.60,465.84 L218.10,466.31 L218.60,466.95 L219.10,467.73 L219.60,468.53 L220.10,469.35 L220.60,470.11 L221.10,470.85 L221.60,471.65 L222.10,472.48 L222.60,473.43 L223.10,474.41 L223.60,475.32 L224.10,476.14 L224.60,476.83 L225.10,477.27 L225.60,477.34 L226.10,476.93 L226.60,475.96 L227.10,474.58 L227.60,472.91 L228.10,471.03 L228.60,469.02 L229.10,466.99 L229.60,464.96 L230.10,463.16 L230.60,461.12 L231.10,458.88 L231.60,456.38 L232.10,454.15 L232.60,452.32 L233.10,451.32 L233.60,451.40 L234.10,452.69 L234.60,454.78 L235.10,457.35 L235.60,460.07 L236.10,462.51 L236.60,464.43 L237.10,466.50 L237.60,468.83 L238.10,470.91 L238.60,472.64 L239.10,474.14 L239.60,475.04 L240.10,475.29 L240.60,475.26 L241.10,475.36 L241.60,475.38 L242.10,475.58 L242.60,475.75 L243.10,475.91 L243.60,475.99 L244.10,476.06 L244.60,476.17 L245.10,476.19 L245.60,476.05 L246.10,475.90 L246.60,475.96 L247.10,476.15 L247.60,476.30 L248.10,476.28 L248.60,476.22 L249.10,476.10 L249.60,476.07 L250.10,476.12 L250.60,476.21 L251.10,476.19 L251.60,476.27 L252.10,476.37 L252.60,476.46 L253.10,476.41 L253.60,476.41 L254.10,476.35 L254.60,476.37 L255.10,476.26 L255.60,476.01 L256.10,475.70 L256.60,475.40 L257.10,475.07 L257.60,474.55 L258.10,474.13 L258.60,473.55 L259.10,473.04 L259.60,472.67 L260.10,472.83 L260.60,473.37 L261.10,474.14 L261.60,475.01 L262.10,475.59 L262.60,476.02 L263.10,476.41 L263.60,476.78 L264.10,476.85 L264.60,476.91 L265.10,476.87 L265.60,476.83 L266.10,476.84 L266.60,476.92 L267.10,476.84 L267.60,476.70 L268.10,476.80 L268.60,476.85 L269.10,476.71 L269.60,476.55 L270.10,476.54 L270.60,476.51 L271.10,476.45 L271.60,476.30 L272.10,476.28 L272.60,476.29 L273.10,476.37 L273.60,476.28 L274.10,476.30 L274.60,476.33 L275.10,476.40 L275.60,476.31 L276.10,476.27 L276.60,476.31 L277.10,476.43 L277.60,476.34 L278.10,476.22 L278.60,476.13 L279.10,476.15 L279.60,476.16 L280.10,476.28 L280.60,476.39 L281.10,476.38 L281.60,476.31 L282.10,476.23 L282.60,476.15 L283.10,476.01 L283.60,475.98 L284.10,476.16 L284.60,476.30 L285.10,476.34 L285.60,476.30 L286.10,476.21 L286.60,476.12 L287.10,476.10 L287.60,476.26 L288.10,476.31 L288.60,476.22 L289.10,476.04 L289.60,476.03 L290.10,476.16 L290.60,476.17 L291.10,476.06 L291.60,476.06 L292.10,476.09 L292.60,476.15 L293.10,476.16 L293.60,476.21 L294.10,476.28 L294.60,476.29 L295.10,476.21 L295.60,476.09 L296.10,476.02 L296.60,476.08 L297.10,476.19 L297.60,476.32 L298.10,476.27 L298.60,476.23 L299.10,476.16 L299.60,476.13 L300.10,476.15 L300.60,476.27 L301.10,476.31 L301.60,476.36 L302.10,476.37 L302.60,476.25 L303.10,476.13 L303.60,476.15 L304.10,476.25 L304.60,476.27 L305.10,476.30 L305.60,476.29 L306.10,476.27 L306.60,476.33 L307.10,476.41 L307.60,476.35 L308.10,476.26 L308.60,476.26 L309.10,476.23 L309.60,476.26 L310.10,476.31 L310.60,476.28 L311.10,476.28 L311.60,476.29 L312.10,476.36 L312.60,476.34 L313.10,476.39 L313.60,476.33 L314.10,476.18 L314.60,476.15 L315.10,476.26 L315.60,476.33 L316.10,476.33 L316.60,476.40 L317.10,476.44 L317.60,476.63 L318.10,476.68 L318.60,476.62 L319.10,476.43 L319.60,476.43 L320.10,476.55 L320.60,476.51 L321.10,476.52 L321.60,476.45 L322.10,476.51 L322.60,476.58 L323.10,476.67 L323.60,476.71 L324.10,476.65 L324.60,476.68 L325.10,476.61 L325.60,476.60 L326.10,476.57 L326.60,476.55 L327.10,476.51 L327.60,476.50 L328.10,476.67 L328.60,476.77" fill="none" stroke="#e43434" stroke-width="1.6" stroke-linejoin="round" stroke-linecap="round"/>
<path d="M28.10,516.55 L28.60,516.27 L29.10,516.06 L29.60,515.91 L30.10,515.80 L30.60,515.62 L31.10,515.47 L31.60,515.38 L32.10,515.26 L32.60,515.28 L33.10,515.18 L33.60,515.08 L34.10,514.92 L34.60,514.98 L35.10,515.08 L35.60,515.04 L36.10,514.91 L36.60,514.80 L37.10,514.77 L37.60,514.84 L38.10,514.91 L38.60,514.97 L39.10,515.04 L39.60,515.00 L40.10,515.02 L40.60,515.21 L41.10,515.49 L41.60,515.66 L42.10,515.73 L42.60,515.89 L43.10,516.01 L43.60,516.04 L44.10,516.12 L44.60,516.24 L45.10,516.30 L45.60,516.13 L46.10,516.02 L46.60,515.97 L47.10,516.02 L47.60,515.97 L48.10,515.84 L48.60,515.62 L49.10,515.63 L49.60,515.63 L50.10,515.47 L50.60,515.25 L51.10,515.10 L51.60,515.07 L52.10,514.95 L52.60,514.92 L53.10,514.90 L53.60,514.97 L54.10,514.90 L54.60,514.81 L55.10,514.76 L55.60,514.80 L56.10,514.87 L56.60,514.90 L57.10,514.92 L57.60,514.92 L58.10,514.91 L58.60,514.99 L59.10,515.12 L59.60,515.24 L60.10,515.33 L60.60,515.35 L61.10,515.31 L61.60,515.28 L62.10,515.43 L62.60,515.47 L63.10,515.49 L63.60,515.57 L64.10,515.65 L64.60,515.75 L65.10,515.89 L65.60,516.06 L66.10,516.02 L66.60,515.96 L67.10,515.95 L67.60,516.03 L68.10,516.15 L68.60,516.31 L69.10,516.24 L69.60,516.13 L70.10,516.14 L70.60,516.26 L71.10,516.17 L71.60,516.13 L72.10,516.19 L72.60,516.29 L73.10,516.22 L73.60,516.18 L74.10,516.06 L74.60,515.94 L75.10,515.85 L75.60,516.02 L76.10,515.97 L76.60,515.83 L77.10,515.69 L77.60,515.70 L78.10,515.62 L78.60,515.53 L79.10,515.35 L79.60,515.24 L80.10,515.16 L80.60,515.28 L81.10,515.30 L81.60,515.34 L82.10,515.32 L82.60,515.31 L83.10,515.42 L83.60,515.48 L84.10,515.61 L84.60,515.69 L85.10,515.94 L85.60,516.09 L86.10,516.15 L86.60,516.20 L87.10,516.36 L87.60,516.40 L88.10,516.36 L88.60,516.19 L89.10,516.04 L89.60,515.76 L90.10,515.49 L90.60,515.27 L91.10,515.05 L91.60,514.79 L92.10,514.31 L92.60,513.94 L93.10,513.58 L93.60,513.39 L94.10,513.04 L94.60,512.84 L95.10,512.56 L95.60,512.42 L96.10,512.29 L96.60,512.33 L97.10,512.37 L97.60,512.24 L98.10,512.05 L98.60,511.95 L99.10,511.85 L99.60,511.71 L100.10,511.62 L100.60,511.66 L101.10,511.67 L101.60,511.66 L102.10,511.54 L102.60,511.49 L103.10,511.56 L103.60,511.67 L104.10,511.59 L104.60,511.63 L105.10,511.85 L105.60,512.11 L106.10,512.28 L106.60,512.42 L107.10,512.54 L107.60,512.67 L108.10,513.03 L108.60,513.28 L109.10,513.48 L109.60,513.53 L110.10,513.79 L110.60,514.13 L111.10,514.41 L111.60,514.66 L112.10,514.93 L112.60,515.36 L113.10,515.64 L113.60,515.85 L114.10,516.08 L114.60,516.27 L115.10,516.38 L115.60,516.46 L116.10,516.55 L116.60,516.52 L117.10,516.47 L117.60,516.45 L118.10,516.33 L118.60,516.06 L119.10,515.70 L119.60,515.45 L120.10,515.20 L120.60,514.98 L121.10,514.74 L121.60,514.64 L122.10,514.67 L122.60,514.83 L123.10,515.07 L123.60,515.36 L124.10,515.70 L124.60,515.67 L125.10,515.20 L125.60,514.49 L126.10,513.69 L126.60,512.87 L127.10,512.04 L127.60,511.20 L128.10,510.28 L128.60,509.65 L129.10,509.34 L129.60,509.40 L130.10,509.64 L130.60,510.14 L131.10,510.72 L131.60,511.28 L132.10,511.82 L132.60,512.50 L133.10,513.13 L133.60,513.45 L134.10,513.55 L134.60,513.62 L135.10,513.58 L135.60,513.31 L136.10,513.11 L136.60,512.95 L137.10,512.63 L137.60,512.23 L138.10,511.93 L138.60,511.59 L139.10,511.16 L139.60,510.78 L140.10,510.49 L140.60,510.29 L141.10,510.10 L141.60,509.87 L142.10,509.55 L142.60,509.31 L143.10,509.12 L143.60,509.22 L144.10,509.64 L144.60,510.30 L145.10,511.09 L145.60,512.05 L146.10,512.90 L146.60,513.71 L147.10,514.51 L147.60,515.23 L148.10,515.63 L148.60,515.90 L149.10,516.00 L149.60,516.07 L150.10,515.87 L150.60,515.61 L151.10,515.32 L151.60,515.21 L152.10,515.11 L152.60,514.96 L153.10,514.60 L153.60,514.10 L154.10,513.69 L154.60,513.14 L155.10,511.71 L155.60,509.54 L156.10,506.79 L156.60,503.68 L157.10,500.63 L157.60,497.77 L158.10,495.11 L158.60,492.82 L159.10,491.37 L159.60,490.72 L160.10,491.32 L160.60,493.44 L161.10,496.83 L161.60,500.73 L162.10,504.83 L162.60,508.44 L163.10,511.23 L163.60,512.58 L164.10,512.72 L164.60,512.76 L165.10,512.85 L165.60,512.92 L166.10,512.94 L166.60,513.03 L167.10,513.32 L167.60,513.64 L168.10,513.88 L168.60,514.14 L169.10,514.56 L169.60,515.14 L170.10,515.58 L170.60,515.99 L171.10,516.30 L171.60,516.60 L172.10,516.74 L172.60,516.95 L173.10,517.02 L173.60,516.93 L174.10,516.65 L174.60,516.12 L175.10,515.28 L175.60,514.32 L176.10,513.54 L176.60,512.71 L177.10,511.83 L177.60,510.88 L178.10,510.15 L178.60,509.48 L179.10,508.88 L179.60,508.20 L180.10,507.73 L180.60,507.56 L181.10,507.67 L181.60,507.83 L182.10,508.07 L182.60,508.30 L183.10,508.48 L183.60,508.55 L184.10,508.58 L184.60,508.53 L185.10,508.18 L185.60,507.38 L186.10,506.32 L186.60,505.17 L187.10,504.04 L187.60,502.96 L188.10,502.00 L188.60,501.44 L189.10,501.42 L189.60,502.12 L190.10,503.18 L190.60,504.48 L191.10,505.89 L191.60,507.42 L192.10,508.83 L192.60,510.04 L193.10,510.88 L193.60,511.75 L194.10,512.54 L194.60,513.28 L195.10,513.92 L195.60,514.65 L196.10,515.26 L196.60,515.66 L197.10,515.94 L197.60,515.98 L198.10,515.94 L198.60,515.76 L199.10,515.77 L199.60,515.81 L200.10,515.88 L200.60,515.99 L201.10,515.95 L201.60,515.89 L202.10,515.73 L202.60,515.77 L203.10,515.78 L203.60,515.83 L204.10,515.80 L204.60,515.85 L205.10,515.85 L205.60,515.87 L206.10,515.86 L206.60,515.85 L207.10,515.84 L207.60,515.85 L208.10,515.92 L208.60,515.80 L209.10,515.64 L209.60,515.33 L210.10,514.94 L210.60,514.31 L211.10,513.18 L211.60,510.42 L212.10,506.75 L212.60,503.04 L213.10,500.13 L213.60,498.59 L214.10,497.23 L214.60,496.01 L215.10,495.01 L215.60,494.18 L216.10,493.44 L216.60,493.03 L217.10,492.87 L217.60,493.19 L218.10,494.06 L218.60,495.47 L219.10,497.18 L219.60,499.02 L220.10,500.91 L220.60,502.68 L221.10,504.21 L221.60,505.69 L222.10,507.32 L222.60,509.12 L223.10,511.02 L223.60,512.72 L224.10,514.04 L224.60,515.02 L225.10,515.74 L225.60,515.99 L226.10,515.51 L226.60,514.30 L227.10,512.48 L227.60,510.38 L228.10,508.03 L228.60,505.58 L229.10,503.05 L229.60,500.71 L230.10,498.57 L230.60,496.03 L231.10,493.22 L231.60,490.33 L232.10,487.60 L232.60,485.17 L233.10,483.55 L233.60,482.96 L234.10,483.77 L234.60,485.77 L235.10,488.55 L235.60,491.69 L236.10,494.87 L236.60,497.71 L237.10,500.66 L237.60,503.85 L238.10,507.03 L238.60,509.99 L239.10,512.30 L239.60,513.59 L240.10,513.87 L240.60,514.12 L241.10,514.27 L241.60,514.37 L242.10,514.50 L242.60,514.67 L243.10,514.83 L243.60,514.99 L244.10,515.07 L244.60,515.22 L245.10,515.32 L245.60,515.46 L246.10,515.45 L246.60,515.37 L247.10,515.22 L247.60,515.23 L248.10,515.38 L248.60,515.48 L249.10,515.37 L249.60,515.28 L250.10,515.29 L250.60,515.47 L251.10,515.53 L251.60,515.43 L252.10,515.31 L252.60,515.29 L253.10,515.34 L253.60,515.41 L254.10,515.51 L254.60,515.47 L255.10,514.94 L255.60,514.11 L256.10,513.10 L256.60,512.15 L257.10,511.21 L257.60,510.21 L258.10,509.29 L258.60,508.55 L259.10,508.07 L259.60,507.83 L260.10,507.93 L260.60,508.46 L261.10,509.42 L261.60,510.60 L262.10,511.85 L262.60,512.92 L263.10,513.79 L263.60,514.45 L264.10,514.77 L264.60,514.86 L265.10,514.94 L265.60,515.01 L266.10,515.04 L266.60,515.12 L267.10,515.35 L267.60,515.37 L268.10,515.30 L268.60,515.22 L269.10,515.34 L269.60,515.36 L270.10,515.45 L270.60,515.37 L271.10,515.40 L271.60,515.45 L272.10,515.56 L272.60,515.51 L273.10,515.41 L273.60,515.28 L274.10,515.24 L274.60,515.26 L275.10,515.23 L275.60,514.99 L276.10,514.76 L276.60,514.62 L277.10,514.67 L277.60,514.76 L278.10,514.76 L278.60,514.58 L279.10,514.39 L279.60,514.41 L280.10,514.64 L280.60,514.96 L281.10,515.09 L281.60,515.25 L282.10,515.36 L282.60,515.57 L283.10,515.65 L283.60,515.76 L284.10,515.81 L284.60,515.89 L285.10,515.90 L285.60,515.87 L286.10,515.90 L286.60,515.90 L287.10,515.90 L287.60,515.87 L288.10,515.92 L288.60,516.00 L289.10,516.02 L289.60,516.08 L290.10,515.97 L290.60,515.91 L291.10,515.88 L291.60,515.87 L292.10,515.86 L292.60,515.88 L293.10,515.94 L293.60,515.99 L294.10,516.11 L294.60,516.19 L295.10,516.09 L295.60,516.04 L296.10,516.10 L296.60,516.08 L297.10,516.00 L297.60,516.05 L298.10,516.12 L298.60,516.11 L299.10,515.96 L299.60,515.79 L300.10,515.76 L300.60,515.85 L301.10,515.99 L301.60,515.99 L302.10,516.02 L302.60,516.06 L303.10,516.07 L303.60,516.02 L304.10,515.98 L304.60,515.97 L305.10,515.96 L305.60,516.02 L306.10,516.05 L306.60,516.07 L307.10,516.11 L307.60,516.17 L308.10,516.10 L308.60,515.92 L309.10,515.89 L309.60,515.93 L310.10,516.03 L310.60,516.10 L311.10,516.16 L311.60,516.15 L312.10,516.16 L312.60,516.03 L313.10,515.86 L313.60,515.78 L314.10,515.89 L314.60,516.00 L315.10,516.13 L315.60,516.19 L316.10,516.24 L316.60,516.12 L317.10,516.02 L317.60,516.01 L318.10,516.01 L318.60,515.95 L319.10,515.99 L319.60,516.19 L320.10,516.14 L320.60,515.99 L321.10,515.85 L321.60,515.82 L322.10,515.77 L322.60,515.87 L323.10,516.02 L323.60,516.08 L324.10,516.11 L324.60,516.05 L325.10,515.99 L325.60,516.01 L326.10,516.12 L326.60,516.08 L327.10,515.92 L327.60,515.88 L328.10,515.95 L328.60,516.01" fill="none" stroke="#363636" stroke-width="1.6" stroke-linejoin="round" stroke-linecap="round"/>
<path d="M369.50,518.41 L370.00,517.04 L370.50,515.70 L371.00,514.51 L371.50,513.39 L372.00,512.36 L372.50,511.50 L373.00,510.83 L373.50,510.25 L374.00,509.68 L374.50,509.07 L375.00,508.19 L375.50,506.87 L376.00,505.38 L376.50,504.15 L377.00,503.62 L377.50,503.36 L378.00,503.29 L378.50,503.30 L379.00,503.25 L379.50,503.20 L380.00,503.35 L380.50,504.02 L381.00,504.85 L381.50,505.74 L382.00,506.72 L382.50,507.84 L383.00,509.07 L383.50,510.27 L384.00,511.56 L384.50,512.77 L385.00,514.03 L385.50,515.38 L386.00,516.60 L386.50,517.38 L387.00,517.74 L387.50,517.59 L388.00,517.22 L388.50,516.53 L389.00,515.82 L389.50,515.05 L390.00,513.93 L390.50,512.60 L391.00,511.20 L391.50,510.08 L392.00,509.14 L392.50,508.39 L393.00,507.60 L393.50,506.96 L394.00,506.50 L394.50,506.22 L395.00,506.05 L395.50,505.94 L396.00,506.04 L396.50,506.62 L397.00,507.55 L397.50,508.62 L398.00,509.74 L398.50,510.42 L399.00,510.60 L399.50,510.64 L400.00,510.76 L400.50,510.94 L401.00,510.99 L401.50,511.16 L402.00,510.93 L402.50,510.39 L403.00,509.57 L403.50,508.81 L404.00,507.98 L404.50,507.13 L405.00,506.71 L405.50,506.81 L406.00,507.55 L406.50,508.34 L407.00,509.14 L407.50,509.62 L408.00,510.11 L408.50,510.51 L409.00,511.06 L409.50,511.73 L410.00,512.73 L410.50,514.15 L411.00,515.56 L411.50,516.63 L412.00,516.71 L412.50,516.69 L413.00,516.77 L413.50,516.97 L414.00,517.11 L414.50,517.09 L415.00,516.95 L415.50,516.44 L416.00,515.74 L416.50,514.99 L417.00,514.58 L417.50,514.37 L418.00,514.00 L418.50,513.64 L419.00,513.29 L419.50,512.96 L420.00,512.34 L420.50,511.61 L421.00,510.85 L421.50,510.39 L422.00,510.31 L422.50,510.77 L423.00,511.56 L423.50,512.59 L424.00,513.81 L424.50,515.63 L425.00,517.24 L425.50,518.32 L426.00,518.39 L426.50,518.15 L427.00,517.65 L427.50,516.86 L428.00,516.12 L428.50,515.35 L429.00,514.64 L429.50,513.89 L430.00,512.90 L430.50,511.66 L431.00,510.37 L431.50,509.12 L432.00,507.95 L432.50,506.84 L433.00,505.95 L433.50,505.09 L434.00,504.13 L434.50,503.14 L435.00,502.07 L435.50,501.16 L436.00,500.23 L436.50,499.59 L437.00,499.11 L437.50,498.90 L438.00,498.68 L438.50,498.92 L439.00,499.92 L439.50,501.15 L440.00,502.06 L440.50,502.14 L441.00,501.26 L441.50,499.66 L442.00,497.83 L442.50,495.90 L443.00,494.14 L443.50,492.99 L444.00,492.72 L444.50,492.71 L445.00,492.74 L445.50,492.87 L446.00,493.01 L446.50,493.06 L447.00,493.35 L447.50,494.25 L448.00,495.66 L448.50,497.17 L449.00,498.87 L449.50,500.29 L450.00,501.29 L450.50,501.94 L451.00,502.64 L451.50,503.46 L452.00,504.54 L452.50,506.43 L453.00,508.91 L453.50,511.47 L454.00,513.64 L454.50,515.07 L455.00,515.41 L455.50,515.41 L456.00,515.32 L456.50,515.16 L457.00,514.77 L457.50,514.01 L458.00,512.29 L458.50,510.03 L459.00,507.56 L459.50,505.30 L460.00,503.44 L460.50,502.42 L461.00,502.51 L461.50,503.45 L462.00,504.84 L462.50,506.28 L463.00,507.92 L463.50,510.53 L464.00,513.84 L464.50,516.66 L465.00,518.31 L465.50,517.72 L466.00,514.14 L466.50,508.75 L467.00,502.61 L467.50,497.02 L468.00,490.34 L468.50,483.00 L469.00,476.58 L469.50,472.84 L470.00,473.11 L470.50,476.65 L471.00,481.79 L471.50,486.89 L472.00,490.29 L472.50,491.74 L473.00,492.83 L473.50,493.78 L474.00,494.59 L474.50,495.37 L475.00,496.36 L475.50,497.85 L476.00,499.58 L476.50,501.15 L477.00,502.52 L477.50,503.76 L478.00,504.57 L478.50,503.96 L479.00,500.79 L479.50,496.53 L480.00,492.74 L480.50,490.53 L481.00,489.41 L481.50,488.69 L482.00,488.27 L482.50,487.75 L483.00,487.11 L483.50,486.61 L484.00,486.30 L484.50,486.03 L485.00,485.87 L485.50,486.74 L486.00,489.72 L486.50,493.76 L487.00,498.09 L487.50,501.83 L488.00,505.49 L488.50,509.60 L489.00,513.58 L489.50,516.71 L490.00,518.25 L490.50,517.73 L491.00,515.36 L491.50,512.24 L492.00,509.12 L492.50,507.41 L493.00,506.83 L493.50,506.52 L494.00,506.30 L494.50,506.10 L495.00,505.81 L495.50,504.30 L496.00,494.08 L496.50,477.64 L497.00,460.19 L497.50,442.58 L498.00,420.28 L498.50,397.09 L499.00,377.17 L499.50,364.52 L500.00,363.61 L500.50,377.26 L501.00,400.28 L501.50,426.00 L502.00,448.10 L502.50,461.58 L503.00,472.87 L503.50,482.12 L504.00,487.43 L504.50,487.32 L505.00,485.01 L505.50,482.32 L506.00,481.29 L506.50,482.27 L507.00,484.77 L507.50,488.00 L508.00,491.31 L508.50,494.99 L509.00,499.24 L509.50,503.34 L510.00,506.79 L510.50,509.24 L511.00,511.56 L511.50,513.48 L512.00,515.14 L512.50,516.54 L513.00,517.67 L513.50,518.24 L514.00,518.24 L514.50,517.12 L515.00,515.03 L515.50,512.12 L516.00,508.89 L516.50,505.25 L517.00,501.66 L517.50,498.38 L518.00,495.54 L518.50,492.20 L519.00,488.58 L519.50,485.17 L520.00,482.03 L520.50,479.60 L521.00,477.99 L521.50,477.70 L522.00,478.33 L522.50,479.36 L523.00,480.47 L523.50,481.47 L524.00,482.49 L524.50,483.14 L525.00,482.06 L525.50,477.85 L526.00,471.56 L526.50,464.31 L527.00,456.87 L527.50,450.32 L528.00,445.62 L528.50,443.90 L529.00,444.78 L529.50,447.20 L530.00,450.77 L530.50,455.06 L531.00,459.76 L531.50,464.72 L532.00,469.81 L532.50,476.52 L533.00,484.63 L533.50,492.75 L534.00,499.52 L534.50,503.75 L535.00,507.11 L535.50,509.95 L536.00,512.29 L536.50,513.86 L537.00,514.75 L537.50,515.41 L538.00,515.94 L538.50,516.37 L539.00,516.77 L539.50,517.15 L540.00,517.34 L540.50,517.55 L541.00,517.71 L541.50,517.76 L542.00,517.72 L542.50,517.71 L543.00,517.63 L543.50,517.41 L544.00,517.27 L544.50,517.25 L545.00,517.17 L545.50,516.87 L546.00,516.54 L546.50,516.38 L547.00,516.27 L547.50,516.15 L548.00,515.97 L548.50,515.66 L549.00,515.19 L549.50,514.69 L550.00,514.07 L550.50,510.07 L551.00,502.25 L551.50,491.86 L552.00,480.20 L552.50,468.27 L553.00,457.27 L553.50,448.19 L554.00,439.11 L554.50,429.45 L555.00,420.20 L555.50,412.27 L556.00,406.80 L556.50,404.77 L557.00,405.70 L557.50,408.17 L558.00,411.87 L558.50,416.50 L559.00,421.57 L559.50,426.77 L560.00,433.63 L560.50,442.50 L561.00,452.65 L561.50,463.32 L562.00,473.63 L562.50,482.79 L563.00,490.20 L563.50,496.84 L564.00,503.58 L564.50,509.82 L565.00,514.85 L565.50,518.13 L566.00,518.86 L566.50,517.10 L567.00,513.35 L567.50,508.00 L568.00,501.29 L568.50,493.69 L569.00,485.71 L569.50,475.10 L570.00,460.56 L570.50,443.43 L571.00,425.01 L571.50,405.15 L572.00,376.53 L572.50,347.23 L573.00,328.52 L573.50,328.86 L574.00,340.10 L574.50,357.40 L575.00,376.36 L575.50,393.02 L576.00,409.16 L576.50,425.84 L577.00,441.42 L577.50,454.97 L578.00,468.39 L578.50,481.27 L579.00,492.19 L579.50,500.11 L580.00,504.55 L580.50,508.30 L581.00,511.39 L581.50,513.97 L582.00,515.77 L582.50,516.62 L583.00,516.59 L583.50,516.58 L584.00,516.64 L584.50,516.69 L585.00,516.74 L585.50,516.52 L586.00,516.26 L586.50,515.28 L587.00,514.02 L587.50,512.56 L588.00,511.79 L588.50,511.95 L589.00,512.78 L589.50,513.92 L590.00,515.10 L590.50,516.05 L591.00,516.63 L591.50,516.74 L592.00,516.76 L592.50,516.67 L593.00,516.61 L593.50,516.53 L594.00,516.35 L594.50,514.91 L595.00,512.29 L595.50,509.02 L596.00,505.70 L596.50,502.17 L597.00,497.51 L597.50,492.38 L598.00,487.29 L598.50,483.18 L599.00,480.60 L599.50,480.40 L600.00,483.07 L600.50,487.84 L601.00,493.55 L601.50,499.16 L602.00,503.19 L602.50,506.14 L603.00,508.97 L603.50,511.50 L604.00,513.34 L604.50,514.41 L605.00,515.32 L605.50,516.07 L606.00,516.43 L606.50,516.52 L607.00,516.45 L607.50,516.45 L608.00,516.41 L608.50,516.40 L609.00,516.33 L609.50,516.16 L610.00,515.97 L610.50,515.77 L611.00,515.55 L611.50,515.21 L612.00,514.82 L612.50,514.35 L613.00,513.92 L613.50,513.29 L614.00,512.30 L614.50,511.04 L615.00,509.77 L615.50,508.36 L616.00,507.26 L616.50,506.62 L617.00,506.37 L617.50,506.36 L618.00,506.86 L618.50,507.67 L619.00,508.58 L619.50,509.48 L620.00,510.46 L620.50,511.62 L621.00,513.04 L621.50,514.35 L622.00,515.30 L622.50,515.71 L623.00,515.99 L623.50,516.22 L624.00,516.44 L624.50,516.56 L625.00,516.55 L625.50,516.52 L626.00,516.45 L626.50,516.30 L627.00,516.01 L627.50,515.65 L628.00,515.31 L628.50,514.88 L629.00,514.40 L629.50,513.87 L630.00,513.67 L630.50,513.61 L631.00,513.48 L631.50,513.23 L632.00,512.88 L632.50,512.59 L633.00,512.44 L633.50,512.38 L634.00,512.22 L634.50,512.09 L635.00,512.19 L635.50,512.43 L636.00,512.58 L636.50,512.78 L637.00,512.93 L637.50,513.21 L638.00,513.41 L638.50,513.73 L639.00,514.14 L639.50,514.58 L640.00,514.94 L640.50,515.24 L641.00,515.48 L641.50,515.71 L642.00,515.92 L642.50,516.14 L643.00,516.35 L643.50,516.37 L644.00,516.35 L644.50,516.33 L645.00,516.49 L645.50,516.61 L646.00,516.76 L646.50,516.87 L647.00,516.84 L647.50,516.63 L648.00,516.48 L648.50,516.24 L649.00,515.99 L649.50,515.64 L650.00,515.39 L650.50,515.17 L651.00,514.98 L651.50,514.86 L652.00,514.89 L652.50,515.09 L653.00,515.32 L653.50,515.54 L654.00,515.64 L654.50,515.74 L655.00,515.87 L655.50,516.04 L656.00,516.17 L656.50,516.26 L657.00,516.22 L657.50,515.97 L658.00,515.59 L658.50,515.24 L659.00,515.07 L659.50,514.94 L660.00,514.72 L660.50,514.56 L661.00,514.55 L661.50,514.49 L662.00,514.35 L662.50,514.28 L663.00,514.18 L663.50,514.06 L664.00,513.80 L664.50,513.69 L665.00,513.63 L665.50,513.93 L666.00,514.37 L666.50,514.86 L667.00,515.39" fill="none" stroke="#f21c1c" stroke-width="1.8" stroke-linejoin="round" stroke-linecap="round"/>
<rect x="25.6" y="6.2" width="304.00" height="238.80" fill="none" stroke="#000" stroke-width="1.8"/>
<rect x="369.0" y="4.3" width="298.60" height="240.60" fill="none" stroke="#000" stroke-width="1.8"/>
<line x1="369.00" y1="244.9" x2="369.00" y2="249.9" stroke="#000" stroke-width="1.4"/>
<line x1="418.77" y1="244.9" x2="418.77" y2="247.4" stroke="#000" stroke-width="1.4"/>
<line x1="468.53" y1="244.9" x2="468.53" y2="249.9" stroke="#000" stroke-width="1.4"/>
<line x1="518.30" y1="244.9" x2="518.30" y2="247.4" stroke="#000" stroke-width="1.4"/>
<line x1="568.07" y1="244.9" x2="568.07" y2="249.9" stroke="#000" stroke-width="1.4"/>
<line x1="617.83" y1="244.9" x2="617.83" y2="247.4" stroke="#000" stroke-width="1.4"/>
<line x1="667.60" y1="244.9" x2="667.60" y2="249.9" stroke="#000" stroke-width="1.4"/>
<rect x="28.0" y="301.1" width="301.70" height="222.40" fill="none" stroke="#000" stroke-width="1.8"/>
<line x1="28.00" y1="523.5" x2="28.00" y2="528.5" stroke="#000" stroke-width="1.4"/>
<line x1="78.28" y1="523.5" x2="78.28" y2="526.0" stroke="#000" stroke-width="1.4"/>
<line x1="128.57" y1="523.5" x2="128.57" y2="528.5" stroke="#000" stroke-width="1.4"/>
<line x1="178.85" y1="523.5" x2="178.85" y2="526.0" stroke="#000" stroke-width="1.4"/>
<line x1="229.13" y1="523.5" x2="229.13" y2="528.5" stroke="#000" stroke-width="1.4"/>
<line x1="279.42" y1="523.5" x2="279.42" y2="526.0" stroke="#000" stroke-width="1.4"/>
<line x1="329.70" y1="523.5" x2="329.70" y2="528.5" stroke="#000" stroke-width="1.4"/>
<rect x="369.0" y="301.1" width="298.80" height="220.80" fill="none" stroke="#000" stroke-width="1.8"/>
<line x1="369.00" y1="521.9" x2="369.00" y2="526.9" stroke="#000" stroke-width="1.4"/>
<line x1="418.80" y1="521.9" x2="418.80" y2="524.4" stroke="#000" stroke-width="1.4"/>
<line x1="468.60" y1="521.9" x2="468.60" y2="526.9" stroke="#000" stroke-width="1.4"/>
<line x1="518.40" y1="521.9" x2="518.40" y2="524.4" stroke="#000" stroke-width="1.4"/>
<line x1="568.20" y1="521.9" x2="568.20" y2="526.9" stroke="#000" stroke-width="1.4"/>
<line x1="618.00" y1="521.9" x2="618.00" y2="524.4" stroke="#000" stroke-width="1.4"/>
<line x1="667.80" y1="521.9" x2="667.80" y2="526.9" stroke="#000" stroke-width="1.4"/>
<text x="40.3" y="34.2" font-size="38">A</text>
<text x="382.3" y="33.2" font-size="38.5">B</text>
<text x="39.3" y="331.0" font-size="38.5">C</text>
<text x="378.3" y="331.0" font-size="38.5">D</text>
<text transform="translate(25.60,263.0) scale(0.92,1)" text-anchor="middle" font-size="13.6">500</text>
<text transform="translate(126.93,263.0) scale(0.92,1)" text-anchor="middle" font-size="13.6">1000</text>
<text transform="translate(228.27,263.0) scale(0.92,1)" text-anchor="middle" font-size="13.6">1500</text>
<text transform="translate(329.60,263.0) scale(0.92,1)" text-anchor="middle" font-size="13.6">2000</text>
<text transform="translate(369.00,265.0) scale(0.93,1)" text-anchor="middle" font-size="15.0">500</text>
<text transform="translate(468.53,265.0) scale(0.93,1)" text-anchor="middle" font-size="15.0">1000</text>
<text transform="translate(568.07,265.0) scale(0.93,1)" text-anchor="middle" font-size="15.0">1500</text>
<text transform="translate(667.60,265.0) scale(0.93,1)" text-anchor="middle" font-size="15.0">2000</text>
<text transform="translate(28.00,540.4) scale(0.9,1)" text-anchor="middle" font-size="12.5">500</text>
<text transform="translate(128.57,540.4) scale(0.9,1)" text-anchor="middle" font-size="12.5">1000</text>
<text transform="translate(229.13,540.4) scale(0.9,1)" text-anchor="middle" font-size="12.5">1500</text>
<text transform="translate(329.70,540.4) scale(0.9,1)" text-anchor="middle" font-size="12.5">2000</text>
<text transform="translate(369.00,538.6) scale(0.92,1)" text-anchor="middle" font-size="13.6">500</text>
<text transform="translate(468.60,538.6) scale(0.92,1)" text-anchor="middle" font-size="13.6">1000</text>
<text transform="translate(568.20,538.6) scale(0.92,1)" text-anchor="middle" font-size="13.6">1500</text>
<text transform="translate(667.80,538.6) scale(0.92,1)" text-anchor="middle" font-size="13.6">2000</text>
<text transform="translate(178.1,280.4) scale(0.973,1)" text-anchor="middle" font-size="14.8">Raman shift <tspan font-size="10.0">(</tspan>cm<tspan font-size="9.77" dy="-5.62">-1</tspan><tspan font-size="12.5" dy="5.62">)</tspan></text>
<text transform="translate(518.0,287.3) scale(0.965,1)" text-anchor="middle" font-size="15.2">Raman shift <tspan font-size="15.2">(</tspan>cm<tspan font-size="10.03" dy="-5.78">-1</tspan><tspan font-size="15.2" dy="5.78">)</tspan></text>
<text transform="translate(179.1,561.7) scale(1.0,1)" text-anchor="middle" font-size="13.5">Raman shift <tspan font-size="13.5">(</tspan>cm<tspan font-size="8.91" dy="-5.13">-1</tspan><tspan font-size="13.5" dy="5.13">)</tspan></text>
<text transform="translate(513.5,554.6) scale(1.0,1)" text-anchor="middle" font-size="13.2">Raman shift <tspan font-size="13.2">(</tspan>cm<tspan font-size="8.71" dy="-5.02">-1</tspan><tspan font-size="13.2" dy="5.02">)</tspan></text>
<text transform="translate(10.8,124.8) rotate(-90)" text-anchor="middle" font-size="13.3">Intensity</text>
<text transform="translate(359.0,116.2) rotate(-90)" text-anchor="middle" font-size="14.5">Intensity</text>
<text transform="translate(12.4,411.9) rotate(-90)" text-anchor="middle" font-size="12.4">Intensity</text>
<text transform="translate(353.2,410.9) rotate(-90)" text-anchor="middle" font-size="13.3">Intensity</text>
<text transform="translate(280.3,51.8) scale(0.91,1)" font-size="12.2">MAK</text>
<text transform="translate(280.3,102.2) scale(0.91,1)" font-size="12.2">MAD</text>
<text transform="translate(280.3,156.1) scale(0.91,1)" font-size="12.2">KAN</text>
<text transform="translate(280.3,179.9) scale(0.91,1)" font-size="12.2">DOM</text>
<text transform="translate(281.5,222.2) scale(0.91,1)" font-size="12.2">AGB</text>
<text transform="translate(285.8,357.0) scale(0.91,1)" font-size="12.2">MAK</text>
<text transform="translate(285.8,395.2) scale(0.91,1)" font-size="12.2">MAD</text>
<text transform="translate(285.0,441.3) scale(0.91,1)" font-size="12.2">KAN</text>
<text transform="translate(285.0,473.2) scale(0.91,1)" font-size="12.2">DOM</text>
<text transform="translate(287.2,512.5) scale(0.91,1)" font-size="12.2">AGB</text>
<text x="436.9" y="126.2" font-size="8.6">893</text>
<text x="453.0" y="134.6" font-size="8.6">962</text>
<text x="460.6" y="111.5" font-size="8.6">1008</text>
<text x="476.1" y="120.8" font-size="8.6">1083</text>
<text x="490.6" y="32.8" font-size="8.6">1156</text>
<text x="510.1" y="123.0" font-size="8.6">1287</text>
<text x="519.6" y="106.6" font-size="8.6">1303</text>
<text x="547.3" y="96.1" font-size="8.6">1442</text>
<text x="564.0" y="46.0" font-size="8.6">1524</text>
<text x="578.7" y="192.5" font-size="8.6">1602</text>
<text x="589.4" y="180.6" font-size="8.6">1657</text>
<text x="609.0" y="213.2" font-size="8.6">1748</text>
<text x="436.9" y="489.8" font-size="8.6">893</text>
<text x="453.8" y="499.6" font-size="8.6">962</text>
<text x="460.0" y="470.4" font-size="8.6">1008</text>
<text x="474.9" y="484.0" font-size="8.6">1083</text>
<text x="491.9" y="359.3" font-size="8.6">1156</text>
<text x="509.8" y="473.4" font-size="8.6">1287</text>
<text x="519.0" y="440.3" font-size="8.6">1303</text>
<text x="548.2" y="401.8" font-size="8.6">1442</text>
<text x="563.7" y="320.1" font-size="8.6">1524</text>
<text x="579.2" y="509.3" font-size="8.6">1602</text>
<text x="590.0" y="476.2" font-size="8.6">1657</text>
<text x="608.3" y="503.7" font-size="8.6">1748</text>
</svg></body></html>
